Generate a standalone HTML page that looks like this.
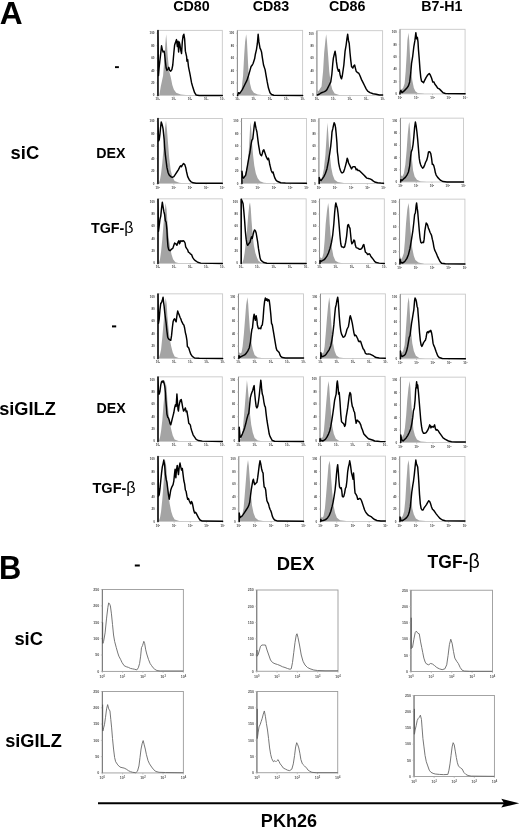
<!DOCTYPE html>
<html><head><meta charset="utf-8"><style>
html,body{margin:0;padding:0;background:#fff;}
body{width:520px;height:828px;overflow:hidden;}
svg{display:block;filter:blur(0.35px);}
text{font-family:"Liberation Sans",sans-serif;}
.big{font-weight:bold;fill:#000;}
.hd{font-weight:bold;font-size:14px;fill:#000;}
.rl{font-weight:bold;font-size:13.8px;fill:#000;}
.lb{font-weight:bold;font-size:17.5px;fill:#000;}
.lb2{font-weight:bold;font-size:17.5px;fill:#000;}
.beta{font-weight:normal;font-family:"Liberation Sans",sans-serif;font-size:1.12em;}
.gf{fill:#a4a4a4;stroke:none;}
.bx{fill:none;stroke:#c8c8c8;stroke-width:0.9;}
.ax{stroke:#8a8a8a;stroke-width:1;}
.tk{stroke:#aaa;stroke-width:0.6;}
.tl{font-size:3px;fill:#444;font-weight:bold;}
.sup{font-size:2px;}
.tlb{font-size:3.6px;fill:#555;font-weight:bold;}
.supb{font-size:2.6px;}
.bl{fill:none;stroke:#000;stroke-width:1.45;stroke-linejoin:round;stroke-linecap:round;}
.bxb{fill:none;stroke:#9a9a9a;stroke-width:0.9;}
.axb{stroke:#777;stroke-width:1;}
.spk{stroke:#555;stroke-width:1;}
.cb{fill:none;stroke:#666;stroke-width:0.9;stroke-linejoin:round;}
</style></head><body>
<svg width="520" height="828" viewBox="0 0 520 828">
<rect width="520" height="828" fill="#fff"/>
<polygon class="gf" points="159.23,95.46 159.23,95.46 160.77,86.54 163.08,75.77 164.62,55.77 165.38,43.46 166.15,34.23 166.92,43.46 167.69,55.77 169.23,71.15 170.77,77.31 172.31,85 173.85,89.62 176.15,92.69 180.77,94.54 188.46,95.31 196.15,95.46 196.15,95.46"/>
<rect class="bx" x="157.69" y="30.38" width="64.62" height="65.08"/>
<line class="ax" x1="157.69" y1="30.38" x2="157.69" y2="95.46"/>
<line class="tk" x1="156.49" y1="33.31" x2="157.69" y2="33.31"/>
<text class="tl" x="154.49" y="34.31" text-anchor="end">100</text>
<line class="tk" x1="156.49" y1="45.74" x2="157.69" y2="45.74"/>
<text class="tl" x="154.49" y="46.74" text-anchor="end">80</text>
<line class="tk" x1="156.49" y1="58.17" x2="157.69" y2="58.17"/>
<text class="tl" x="154.49" y="59.17" text-anchor="end">60</text>
<line class="tk" x1="156.49" y1="70.6" x2="157.69" y2="70.6"/>
<text class="tl" x="154.49" y="71.6" text-anchor="end">40</text>
<line class="tk" x1="156.49" y1="83.03" x2="157.69" y2="83.03"/>
<text class="tl" x="154.49" y="84.03" text-anchor="end">20</text>
<line class="tk" x1="156.49" y1="95.46" x2="157.69" y2="95.46"/>
<text class="tl" x="154.49" y="96.46" text-anchor="end">0</text>
<line class="tk" x1="157.69" y1="95.46" x2="157.69" y2="96.66"/>
<text class="tl" x="157.69" y="100.46" text-anchor="middle">10<tspan class="sup" dy="-0.8">0</tspan></text>
<line class="tk" x1="173.85" y1="95.46" x2="173.85" y2="96.66"/>
<text class="tl" x="173.85" y="100.46" text-anchor="middle">10<tspan class="sup" dy="-0.8">1</tspan></text>
<line class="tk" x1="190" y1="95.46" x2="190" y2="96.66"/>
<text class="tl" x="190" y="100.46" text-anchor="middle">10<tspan class="sup" dy="-0.8">2</tspan></text>
<line class="tk" x1="206.15" y1="95.46" x2="206.15" y2="96.66"/>
<text class="tl" x="206.15" y="100.46" text-anchor="middle">10<tspan class="sup" dy="-0.8">3</tspan></text>
<line class="tk" x1="222.31" y1="95.46" x2="222.31" y2="96.66"/>
<text class="tl" x="222.31" y="100.46" text-anchor="middle">10<tspan class="sup" dy="-0.8">4</tspan></text>
<polyline class="bl" points="158,95.46 158,30.38 158.46,75.77 159.23,66.54 160.46,55.77 161.54,45.77 162.31,49.62 163.08,51.92 164.15,51.15 164.62,54.23 165.38,61.92 166.15,68.08 166.92,70.38 168.15,68.85 168.77,67.31 169.69,70.38 170.77,71.15 171.85,69.62 172.77,65 173.85,52.69 174.62,45 175.38,42.69 176.46,39.62 177.38,46.54 178,41.15 178.62,51.92 179.23,41.92 180,45 180.77,50.38 181.54,53.46 182.31,41.92 183.08,35.77 183.85,34.23 184.62,38.85 185.38,51.15 186.62,56.54 186.92,61.15 187.69,59.62 188.46,66.54 190,74.23 191.54,82.69 193.08,88.08 194.62,92.69 196.15,95 199.23,95.46 222.31,95.46"/>
<polygon class="gf" points="238.46,95.46 238.46,95.46 240,92.69 241.54,89.62 243.08,75.77 244.15,55.77 245.08,41.92 246.15,34.23 246.92,40.38 247.69,55.77 248.46,71.15 250,83.46 251.54,89.62 253.85,92.69 257.69,94.54 263.85,95.31 270,95.46 270,95.46"/>
<rect class="bx" x="237.38" y="30.38" width="65.23" height="65.08"/>
<line class="ax" x1="237.38" y1="30.38" x2="237.38" y2="95.46"/>
<line class="tk" x1="236.18" y1="33.31" x2="237.38" y2="33.31"/>
<text class="tl" x="234.18" y="34.31" text-anchor="end">100</text>
<line class="tk" x1="236.18" y1="45.74" x2="237.38" y2="45.74"/>
<text class="tl" x="234.18" y="46.74" text-anchor="end">80</text>
<line class="tk" x1="236.18" y1="58.17" x2="237.38" y2="58.17"/>
<text class="tl" x="234.18" y="59.17" text-anchor="end">60</text>
<line class="tk" x1="236.18" y1="70.6" x2="237.38" y2="70.6"/>
<text class="tl" x="234.18" y="71.6" text-anchor="end">40</text>
<line class="tk" x1="236.18" y1="83.03" x2="237.38" y2="83.03"/>
<text class="tl" x="234.18" y="84.03" text-anchor="end">20</text>
<line class="tk" x1="236.18" y1="95.46" x2="237.38" y2="95.46"/>
<text class="tl" x="234.18" y="96.46" text-anchor="end">0</text>
<line class="tk" x1="237.38" y1="95.46" x2="237.38" y2="96.66"/>
<text class="tl" x="237.38" y="100.46" text-anchor="middle">10<tspan class="sup" dy="-0.8">0</tspan></text>
<line class="tk" x1="253.69" y1="95.46" x2="253.69" y2="96.66"/>
<text class="tl" x="253.69" y="100.46" text-anchor="middle">10<tspan class="sup" dy="-0.8">1</tspan></text>
<line class="tk" x1="270" y1="95.46" x2="270" y2="96.66"/>
<text class="tl" x="270" y="100.46" text-anchor="middle">10<tspan class="sup" dy="-0.8">2</tspan></text>
<line class="tk" x1="286.31" y1="95.46" x2="286.31" y2="96.66"/>
<text class="tl" x="286.31" y="100.46" text-anchor="middle">10<tspan class="sup" dy="-0.8">3</tspan></text>
<line class="tk" x1="302.62" y1="95.46" x2="302.62" y2="96.66"/>
<text class="tl" x="302.62" y="100.46" text-anchor="middle">10<tspan class="sup" dy="-0.8">4</tspan></text>
<polyline class="bl" points="237.69,95.46 238.46,92.69 239.54,93.46 240.77,91.92 242.31,89.62 244.62,85 246.92,80.38 248.46,75.77 250,70.38 251.08,66.54 252.31,65 253.08,63.46 254.62,58.85 255.38,54.23 256.46,49.62 257.38,43.46 258.15,34.23 258.92,41.92 260,48.08 260.77,49.62 261.54,51.92 262.31,57.31 263.54,65 265.08,69.62 266.15,75.77 267.23,81.92 268.46,88.08 270,92.69 271.54,94.54 273.85,95.31 302.62,95.46"/>
<polygon class="gf" points="317.38,95.46 317.38,95.46 317.38,89.62 318.46,91.15 320,88.85 321.54,86.54 323.08,71.15 324.15,52.69 325.38,40.38 326.15,34.23 326.92,40.38 328.15,55.77 329.23,71.15 330.77,83.46 332.31,89.62 334.62,93.46 339.23,95 346.92,95.46 346.92,95.46"/>
<rect class="bx" x="316.92" y="30.69" width="65.69" height="64.77"/>
<line class="ax" x1="316.92" y1="30.69" x2="316.92" y2="95.46"/>
<line class="tk" x1="315.72" y1="33.61" x2="316.92" y2="33.61"/>
<text class="tl" x="313.72" y="34.61" text-anchor="end">100</text>
<line class="tk" x1="315.72" y1="45.98" x2="316.92" y2="45.98"/>
<text class="tl" x="313.72" y="46.98" text-anchor="end">80</text>
<line class="tk" x1="315.72" y1="58.35" x2="316.92" y2="58.35"/>
<text class="tl" x="313.72" y="59.35" text-anchor="end">60</text>
<line class="tk" x1="315.72" y1="70.72" x2="316.92" y2="70.72"/>
<text class="tl" x="313.72" y="71.72" text-anchor="end">40</text>
<line class="tk" x1="315.72" y1="83.09" x2="316.92" y2="83.09"/>
<text class="tl" x="313.72" y="84.09" text-anchor="end">20</text>
<line class="tk" x1="315.72" y1="95.46" x2="316.92" y2="95.46"/>
<text class="tl" x="313.72" y="96.46" text-anchor="end">0</text>
<line class="tk" x1="316.92" y1="95.46" x2="316.92" y2="96.66"/>
<text class="tl" x="316.92" y="100.46" text-anchor="middle">10<tspan class="sup" dy="-0.8">0</tspan></text>
<line class="tk" x1="333.35" y1="95.46" x2="333.35" y2="96.66"/>
<text class="tl" x="333.35" y="100.46" text-anchor="middle">10<tspan class="sup" dy="-0.8">1</tspan></text>
<line class="tk" x1="349.77" y1="95.46" x2="349.77" y2="96.66"/>
<text class="tl" x="349.77" y="100.46" text-anchor="middle">10<tspan class="sup" dy="-0.8">2</tspan></text>
<line class="tk" x1="366.19" y1="95.46" x2="366.19" y2="96.66"/>
<text class="tl" x="366.19" y="100.46" text-anchor="middle">10<tspan class="sup" dy="-0.8">3</tspan></text>
<line class="tk" x1="382.62" y1="95.46" x2="382.62" y2="96.66"/>
<text class="tl" x="382.62" y="100.46" text-anchor="middle">10<tspan class="sup" dy="-0.8">4</tspan></text>
<polyline class="bl" points="317.38,95 319.23,94.23 321.54,92.69 323.85,91.92 325.38,91.15 326.92,89.62 329.23,85 330.77,81.92 331.85,74.23 332.77,63.46 333.38,58.08 334.31,54.23 335.08,51.15 335.85,55.77 336.46,61.92 337.38,68.08 338.46,71.15 339.23,69.62 340,74.23 340.77,77.31 341.54,78.85 342.31,75.77 343.85,65 345.08,51.15 346.15,45 346.92,38.85 347.69,34.23 348.46,40.38 349.23,43.46 350,52.69 350.77,60.38 351.54,66.54 352.77,68.08 353.85,65.77 354.62,65 355.38,68.08 356.15,71.15 357.69,72.69 358.92,73.46 360,75.77 361.54,79.62 363.08,82.69 364.62,85.77 366.15,88.85 367.69,91.15 370,92.69 373.08,93.77 376.15,94.23 379.23,95 382.62,95"/>
<polygon class="gf" points="400.46,93.92 400.46,93.92 400.46,88.08 401.54,89.62 403.08,88.08 404.62,83.46 405.69,71.15 406.62,55.77 407.38,40.38 408.46,32.69 409.23,40.38 410,55.77 411.23,71.15 412.31,80.38 413.85,88.08 415.38,91.15 417.69,93 423.85,93.77 423.85,93.92"/>
<rect class="bx" x="400" y="29.31" width="65.08" height="64.62"/>
<line class="ax" x1="400" y1="29.31" x2="400" y2="93.92"/>
<line class="tk" x1="398.8" y1="32.22" x2="400" y2="32.22"/>
<text class="tl" x="396.8" y="33.22" text-anchor="end">100</text>
<line class="tk" x1="398.8" y1="44.56" x2="400" y2="44.56"/>
<text class="tl" x="396.8" y="45.56" text-anchor="end">80</text>
<line class="tk" x1="398.8" y1="56.9" x2="400" y2="56.9"/>
<text class="tl" x="396.8" y="57.9" text-anchor="end">60</text>
<line class="tk" x1="398.8" y1="69.24" x2="400" y2="69.24"/>
<text class="tl" x="396.8" y="70.24" text-anchor="end">40</text>
<line class="tk" x1="398.8" y1="81.58" x2="400" y2="81.58"/>
<text class="tl" x="396.8" y="82.58" text-anchor="end">20</text>
<line class="tk" x1="398.8" y1="93.92" x2="400" y2="93.92"/>
<text class="tl" x="396.8" y="94.92" text-anchor="end">0</text>
<line class="tk" x1="400" y1="93.92" x2="400" y2="95.12"/>
<text class="tl" x="400" y="98.92" text-anchor="middle">10<tspan class="sup" dy="-0.8">0</tspan></text>
<line class="tk" x1="416.27" y1="93.92" x2="416.27" y2="95.12"/>
<text class="tl" x="416.27" y="98.92" text-anchor="middle">10<tspan class="sup" dy="-0.8">1</tspan></text>
<line class="tk" x1="432.54" y1="93.92" x2="432.54" y2="95.12"/>
<text class="tl" x="432.54" y="98.92" text-anchor="middle">10<tspan class="sup" dy="-0.8">2</tspan></text>
<line class="tk" x1="448.81" y1="93.92" x2="448.81" y2="95.12"/>
<text class="tl" x="448.81" y="98.92" text-anchor="middle">10<tspan class="sup" dy="-0.8">3</tspan></text>
<line class="tk" x1="465.08" y1="93.92" x2="465.08" y2="95.12"/>
<text class="tl" x="465.08" y="98.92" text-anchor="middle">10<tspan class="sup" dy="-0.8">4</tspan></text>
<polyline class="bl" points="400,93.92 400,92.69 400.77,90.38 402,92.69 403.85,91.15 405.38,89.62 406.92,88.08 408.46,85.77 409.69,81.92 410.77,72.69 411.54,63.46 412.77,55.77 413.85,46.54 414.92,40.38 415.85,32.69 416.62,38.85 417.38,37.31 418,41.92 418.46,49.62 419.23,58.85 420,69.62 420.77,77.31 421.54,81.15 422.62,81.92 423.54,82.69 424.62,80.38 426.15,77.31 427.69,75 429.23,73.46 430.31,75 431.54,78.08 432.77,81.92 433.85,81.92 434.92,84.23 436.15,85.77 437.69,88.08 439.23,88.85 440.77,90.38 443.08,92.69 445.38,93.46 465.08,93.77"/>
<polygon class="gf" points="158.92,183.54 158.92,182.77 160,179.69 161.08,173.54 162.31,162.77 163.38,150.46 164.15,138.15 165.08,127.38 166,120.46 166.92,128.92 168,142.77 169.23,158.15 170.77,170.46 172.31,176.62 174.62,180.92 179.23,182.77 185.38,183.38 185.38,183.54"/>
<rect class="bx" x="157.69" y="118.46" width="64.62" height="65.08"/>
<line class="ax" x1="157.69" y1="118.46" x2="157.69" y2="183.54"/>
<line class="tk" x1="156.49" y1="121.39" x2="157.69" y2="121.39"/>
<text class="tl" x="154.49" y="122.39" text-anchor="end">100</text>
<line class="tk" x1="156.49" y1="133.82" x2="157.69" y2="133.82"/>
<text class="tl" x="154.49" y="134.82" text-anchor="end">80</text>
<line class="tk" x1="156.49" y1="146.25" x2="157.69" y2="146.25"/>
<text class="tl" x="154.49" y="147.25" text-anchor="end">60</text>
<line class="tk" x1="156.49" y1="158.68" x2="157.69" y2="158.68"/>
<text class="tl" x="154.49" y="159.68" text-anchor="end">40</text>
<line class="tk" x1="156.49" y1="171.11" x2="157.69" y2="171.11"/>
<text class="tl" x="154.49" y="172.11" text-anchor="end">20</text>
<line class="tk" x1="156.49" y1="183.54" x2="157.69" y2="183.54"/>
<text class="tl" x="154.49" y="184.54" text-anchor="end">0</text>
<line class="tk" x1="157.69" y1="183.54" x2="157.69" y2="184.74"/>
<text class="tl" x="157.69" y="188.54" text-anchor="middle">10<tspan class="sup" dy="-0.8">0</tspan></text>
<line class="tk" x1="173.85" y1="183.54" x2="173.85" y2="184.74"/>
<text class="tl" x="173.85" y="188.54" text-anchor="middle">10<tspan class="sup" dy="-0.8">1</tspan></text>
<line class="tk" x1="190" y1="183.54" x2="190" y2="184.74"/>
<text class="tl" x="190" y="188.54" text-anchor="middle">10<tspan class="sup" dy="-0.8">2</tspan></text>
<line class="tk" x1="206.15" y1="183.54" x2="206.15" y2="184.74"/>
<text class="tl" x="206.15" y="188.54" text-anchor="middle">10<tspan class="sup" dy="-0.8">3</tspan></text>
<line class="tk" x1="222.31" y1="183.54" x2="222.31" y2="184.74"/>
<text class="tl" x="222.31" y="188.54" text-anchor="middle">10<tspan class="sup" dy="-0.8">4</tspan></text>
<polyline class="bl" points="158,183.54 158,118.46 158.46,141.23 159.23,139.69 160,133.54 160.77,125.85 161.23,122 162,124.31 162.62,126.62 163.08,128.92 163.54,133.54 164.15,139.69 164.62,147.38 165.38,155.08 166.15,161.23 166.92,167.38 168.15,172.77 169.23,175.08 170.77,176.62 172.31,177.38 173.85,176.62 175.38,174.31 176.92,172 178.46,169.69 179.23,168.15 180,166.62 180.77,165.85 181.54,166.62 182.31,165.08 183.54,163.54 184.62,164.31 185.69,167.38 186.62,172 187.69,176.62 189.23,179.69 190.77,181.54 193.08,182.77 196.15,183.23 222.31,183.23"/>
<polygon class="gf" points="242.31,183.54 242.31,183.54 242.31,180.46 243.54,178.92 244.62,176.62 246.15,170.46 247.69,162.77 248.77,150.46 249.69,135.08 250.46,122 251.23,128.92 252,142.77 253.08,155.08 254.31,165.85 255.85,173.54 257.69,178.15 260,181.23 263.85,182.77 270,183.23 270,183.54"/>
<rect class="bx" x="241.54" y="118.46" width="64.92" height="65.08"/>
<line class="ax" x1="241.54" y1="118.46" x2="241.54" y2="183.54"/>
<line class="tk" x1="240.34" y1="121.39" x2="241.54" y2="121.39"/>
<text class="tl" x="238.34" y="122.39" text-anchor="end">100</text>
<line class="tk" x1="240.34" y1="133.82" x2="241.54" y2="133.82"/>
<text class="tl" x="238.34" y="134.82" text-anchor="end">80</text>
<line class="tk" x1="240.34" y1="146.25" x2="241.54" y2="146.25"/>
<text class="tl" x="238.34" y="147.25" text-anchor="end">60</text>
<line class="tk" x1="240.34" y1="158.68" x2="241.54" y2="158.68"/>
<text class="tl" x="238.34" y="159.68" text-anchor="end">40</text>
<line class="tk" x1="240.34" y1="171.11" x2="241.54" y2="171.11"/>
<text class="tl" x="238.34" y="172.11" text-anchor="end">20</text>
<line class="tk" x1="240.34" y1="183.54" x2="241.54" y2="183.54"/>
<text class="tl" x="238.34" y="184.54" text-anchor="end">0</text>
<line class="tk" x1="241.54" y1="183.54" x2="241.54" y2="184.74"/>
<text class="tl" x="241.54" y="188.54" text-anchor="middle">10<tspan class="sup" dy="-0.8">0</tspan></text>
<line class="tk" x1="257.77" y1="183.54" x2="257.77" y2="184.74"/>
<text class="tl" x="257.77" y="188.54" text-anchor="middle">10<tspan class="sup" dy="-0.8">1</tspan></text>
<line class="tk" x1="274" y1="183.54" x2="274" y2="184.74"/>
<text class="tl" x="274" y="188.54" text-anchor="middle">10<tspan class="sup" dy="-0.8">2</tspan></text>
<line class="tk" x1="290.23" y1="183.54" x2="290.23" y2="184.74"/>
<text class="tl" x="290.23" y="188.54" text-anchor="middle">10<tspan class="sup" dy="-0.8">3</tspan></text>
<line class="tk" x1="306.46" y1="183.54" x2="306.46" y2="184.74"/>
<text class="tl" x="306.46" y="188.54" text-anchor="middle">10<tspan class="sup" dy="-0.8">4</tspan></text>
<polyline class="bl" points="242,183.54 242,171.23 242.62,176.62 243.54,178.15 244.62,176.62 245.69,175.08 246.62,170.46 247.69,164.31 248.77,158.15 250,152 251.08,144.31 251.85,140.46 252.77,138.92 253.38,133.54 254.31,125.08 254.92,122 255.54,125.85 256.15,128.92 256.92,132 257.69,138.15 258.46,144.31 259.23,148.92 260,153.54 260.77,155.08 261.54,155.85 262.31,153.54 263.08,150.46 263.85,149.69 264.62,152 265.38,154.31 266.15,156.62 266.92,158.15 267.69,159.69 268.46,158.15 269.23,161.23 269.69,164.31 270.31,166.62 271.23,170.46 272.31,172.77 273.08,172 273.85,175.08 274.92,178.15 276.15,180.46 277.69,181.54 280.77,182.77 285.38,183.08 306.46,183.23"/>
<polygon class="gf" points="319.23,183.54 319.23,183.54 319.23,181.23 320.77,179.69 322.31,176.62 323.85,168.92 325.38,155.08 326.46,138.15 327.38,122.77 328.15,132 328.92,144.31 330,156.62 331.23,167.38 332.77,175.08 334.62,179.69 337.69,182 343.85,183.08 343.85,183.54"/>
<rect class="bx" x="318.92" y="118.46" width="64.62" height="65.08"/>
<line class="ax" x1="318.92" y1="118.46" x2="318.92" y2="183.54"/>
<line class="tk" x1="317.72" y1="121.39" x2="318.92" y2="121.39"/>
<text class="tl" x="315.72" y="122.39" text-anchor="end">100</text>
<line class="tk" x1="317.72" y1="133.82" x2="318.92" y2="133.82"/>
<text class="tl" x="315.72" y="134.82" text-anchor="end">80</text>
<line class="tk" x1="317.72" y1="146.25" x2="318.92" y2="146.25"/>
<text class="tl" x="315.72" y="147.25" text-anchor="end">60</text>
<line class="tk" x1="317.72" y1="158.68" x2="318.92" y2="158.68"/>
<text class="tl" x="315.72" y="159.68" text-anchor="end">40</text>
<line class="tk" x1="317.72" y1="171.11" x2="318.92" y2="171.11"/>
<text class="tl" x="315.72" y="172.11" text-anchor="end">20</text>
<line class="tk" x1="317.72" y1="183.54" x2="318.92" y2="183.54"/>
<text class="tl" x="315.72" y="184.54" text-anchor="end">0</text>
<line class="tk" x1="318.92" y1="183.54" x2="318.92" y2="184.74"/>
<text class="tl" x="318.92" y="188.54" text-anchor="middle">10<tspan class="sup" dy="-0.8">0</tspan></text>
<line class="tk" x1="335.08" y1="183.54" x2="335.08" y2="184.74"/>
<text class="tl" x="335.08" y="188.54" text-anchor="middle">10<tspan class="sup" dy="-0.8">1</tspan></text>
<line class="tk" x1="351.23" y1="183.54" x2="351.23" y2="184.74"/>
<text class="tl" x="351.23" y="188.54" text-anchor="middle">10<tspan class="sup" dy="-0.8">2</tspan></text>
<line class="tk" x1="367.38" y1="183.54" x2="367.38" y2="184.74"/>
<text class="tl" x="367.38" y="188.54" text-anchor="middle">10<tspan class="sup" dy="-0.8">3</tspan></text>
<line class="tk" x1="383.54" y1="183.54" x2="383.54" y2="184.74"/>
<text class="tl" x="383.54" y="188.54" text-anchor="middle">10<tspan class="sup" dy="-0.8">4</tspan></text>
<polyline class="bl" points="319.23,183.54 319.23,177.38 320,179.69 321.08,180.46 322.31,178.92 323.85,176.62 325.38,173.54 326.92,168.92 328.46,161.23 329.69,153.54 330.77,145.85 331.54,138.15 332,132 332.77,128.92 333.38,125.85 334.15,122.77 334.92,124.31 335.54,127.38 336.15,133.54 336.92,142.77 337.38,152 338,156.62 338.62,162.77 339.54,167.38 340.46,170.46 341.54,172.77 342.62,172.77 343.54,172 344.62,168.92 345.69,165.08 346.62,161.23 347.23,158.15 347.85,159.69 348.46,162.77 349.69,165.08 350.77,167.38 351.54,168.92 352.31,167.38 353.38,166.62 354.62,166.62 355.38,167.38 356.15,169.69 356.92,168.92 358,170.46 359.23,170.46 360.77,172 362.31,173.54 363.85,175.08 365.38,176.62 366.92,178.15 368.46,178.46 370,178.92 371.54,179.69 373.08,180.92 374.62,182 377.69,182.77 380.77,183.08 383.54,183.23"/>
<polygon class="gf" points="400.77,182 400.77,182 400.77,175.08 402.31,176.62 403.85,173.54 405.38,164.31 406.62,150.46 407.69,135.08 408.77,124.31 409.38,122 410,128.92 410.77,142.77 411.85,158.15 413.08,170.46 414.62,176.62 416.92,179.69 420.77,181.54 426.92,182 426.92,182"/>
<rect class="bx" x="400.46" y="118.15" width="63.08" height="63.85"/>
<line class="ax" x1="400.46" y1="118.15" x2="400.46" y2="182"/>
<line class="tk" x1="399.26" y1="121.03" x2="400.46" y2="121.03"/>
<text class="tl" x="397.26" y="122.03" text-anchor="end">100</text>
<line class="tk" x1="399.26" y1="133.22" x2="400.46" y2="133.22"/>
<text class="tl" x="397.26" y="134.22" text-anchor="end">80</text>
<line class="tk" x1="399.26" y1="145.42" x2="400.46" y2="145.42"/>
<text class="tl" x="397.26" y="146.42" text-anchor="end">60</text>
<line class="tk" x1="399.26" y1="157.61" x2="400.46" y2="157.61"/>
<text class="tl" x="397.26" y="158.61" text-anchor="end">40</text>
<line class="tk" x1="399.26" y1="169.81" x2="400.46" y2="169.81"/>
<text class="tl" x="397.26" y="170.81" text-anchor="end">20</text>
<line class="tk" x1="399.26" y1="182" x2="400.46" y2="182"/>
<text class="tl" x="397.26" y="183" text-anchor="end">0</text>
<line class="tk" x1="400.46" y1="182" x2="400.46" y2="183.2"/>
<text class="tl" x="400.46" y="187" text-anchor="middle">10<tspan class="sup" dy="-0.8">0</tspan></text>
<line class="tk" x1="416.23" y1="182" x2="416.23" y2="183.2"/>
<text class="tl" x="416.23" y="187" text-anchor="middle">10<tspan class="sup" dy="-0.8">1</tspan></text>
<line class="tk" x1="432" y1="182" x2="432" y2="183.2"/>
<text class="tl" x="432" y="187" text-anchor="middle">10<tspan class="sup" dy="-0.8">2</tspan></text>
<line class="tk" x1="447.77" y1="182" x2="447.77" y2="183.2"/>
<text class="tl" x="447.77" y="187" text-anchor="middle">10<tspan class="sup" dy="-0.8">3</tspan></text>
<line class="tk" x1="463.54" y1="182" x2="463.54" y2="183.2"/>
<text class="tl" x="463.54" y="187" text-anchor="middle">10<tspan class="sup" dy="-0.8">4</tspan></text>
<polyline class="bl" points="400.77,182 400.77,179.69 402,180.46 403.54,178.92 405.38,177.38 406.92,175.08 408.46,172 409.69,165.85 410.46,158.15 411.23,152 412.31,148.92 413.08,144.31 413.85,136.62 414.62,127.38 415.38,122 416.15,125.85 416.92,132 417.69,139.69 418.46,148.92 419.23,158.15 420,162.77 420.77,165.08 421.54,166.62 422.62,168.15 423.54,167.38 424.62,165.08 425.69,162 426.62,160.46 427.69,156.62 428.46,152 429.69,151.69 430.77,153.54 431.54,158.15 432.31,164.31 433.08,164.31 433.85,165.85 434.62,168.92 435.38,172.77 436.15,175.08 437.69,177.38 439.23,178.92 440.77,180.46 443.08,181.54 446.92,182 463.54,182"/>
<polygon class="gf" points="158.92,263.46 158.92,263 160,259.15 161.08,251.46 162.31,239.15 163.54,223.77 164.77,211.46 165.69,203 166.62,209.92 167.54,223.77 168.46,236.08 170,246.85 171.54,254.54 173.08,259.15 175.38,262.23 179.23,263.15 185.38,263.46 185.38,263.46"/>
<rect class="bx" x="158" y="198.85" width="64.31" height="64.62"/>
<line class="ax" x1="158" y1="198.85" x2="158" y2="263.46"/>
<line class="tk" x1="156.8" y1="201.75" x2="158" y2="201.75"/>
<text class="tl" x="154.8" y="202.75" text-anchor="end">100</text>
<line class="tk" x1="156.8" y1="214.1" x2="158" y2="214.1"/>
<text class="tl" x="154.8" y="215.1" text-anchor="end">80</text>
<line class="tk" x1="156.8" y1="226.44" x2="158" y2="226.44"/>
<text class="tl" x="154.8" y="227.44" text-anchor="end">60</text>
<line class="tk" x1="156.8" y1="238.78" x2="158" y2="238.78"/>
<text class="tl" x="154.8" y="239.78" text-anchor="end">40</text>
<line class="tk" x1="156.8" y1="251.12" x2="158" y2="251.12"/>
<text class="tl" x="154.8" y="252.12" text-anchor="end">20</text>
<line class="tk" x1="156.8" y1="263.46" x2="158" y2="263.46"/>
<text class="tl" x="154.8" y="264.46" text-anchor="end">0</text>
<line class="tk" x1="158" y1="263.46" x2="158" y2="264.66"/>
<text class="tl" x="158" y="268.46" text-anchor="middle">10<tspan class="sup" dy="-0.8">0</tspan></text>
<line class="tk" x1="174.08" y1="263.46" x2="174.08" y2="264.66"/>
<text class="tl" x="174.08" y="268.46" text-anchor="middle">10<tspan class="sup" dy="-0.8">1</tspan></text>
<line class="tk" x1="190.15" y1="263.46" x2="190.15" y2="264.66"/>
<text class="tl" x="190.15" y="268.46" text-anchor="middle">10<tspan class="sup" dy="-0.8">2</tspan></text>
<line class="tk" x1="206.23" y1="263.46" x2="206.23" y2="264.66"/>
<text class="tl" x="206.23" y="268.46" text-anchor="middle">10<tspan class="sup" dy="-0.8">3</tspan></text>
<line class="tk" x1="222.31" y1="263.46" x2="222.31" y2="264.66"/>
<text class="tl" x="222.31" y="268.46" text-anchor="middle">10<tspan class="sup" dy="-0.8">4</tspan></text>
<polyline class="bl" points="158,263.46 158,199.15 158.46,231.46 159.23,225.31 160,219.15 160.77,216.08 161.54,208.38 162.31,202.23 163.08,206.85 163.85,211.46 164.62,214.54 165.38,220.69 166.15,222.23 166.92,229.92 167.38,239.15 168,246.85 168.77,249.92 170,250.69 171.54,249.15 172.77,248.38 173.85,245.31 174.62,243 175.85,243.77 176.92,245.31 178,242.23 178.92,240.69 179.54,243.77 180.15,242.23 180.77,240.69 182,241.46 183.08,240.69 184.15,241.46 185.08,243 185.69,246.85 186.62,248.38 187.69,249.92 188.46,252.23 189.69,253 190.31,253.77 191.54,254.54 192.77,257.62 193.85,259.15 195.38,260.69 197.69,262.23 200.77,263.15 222.31,263.46"/>
<polygon class="gf" points="242.31,263.46 242.31,263.46 242.31,263 243.54,259.15 244.62,253 245.69,243.77 246.92,231.46 248.15,216.08 249.23,205.31 250,202.23 250.77,208.38 251.54,220.69 252.77,236.08 253.85,245.31 255.38,253 256.92,257.62 258.46,260.69 260.77,262.54 266.92,263.46 266.92,263.46"/>
<rect class="bx" x="241.08" y="198.85" width="65.08" height="64.62"/>
<line class="ax" x1="241.08" y1="198.85" x2="241.08" y2="263.46"/>
<line class="tk" x1="239.88" y1="201.75" x2="241.08" y2="201.75"/>
<text class="tl" x="237.88" y="202.75" text-anchor="end">100</text>
<line class="tk" x1="239.88" y1="214.1" x2="241.08" y2="214.1"/>
<text class="tl" x="237.88" y="215.1" text-anchor="end">80</text>
<line class="tk" x1="239.88" y1="226.44" x2="241.08" y2="226.44"/>
<text class="tl" x="237.88" y="227.44" text-anchor="end">60</text>
<line class="tk" x1="239.88" y1="238.78" x2="241.08" y2="238.78"/>
<text class="tl" x="237.88" y="239.78" text-anchor="end">40</text>
<line class="tk" x1="239.88" y1="251.12" x2="241.08" y2="251.12"/>
<text class="tl" x="237.88" y="252.12" text-anchor="end">20</text>
<line class="tk" x1="239.88" y1="263.46" x2="241.08" y2="263.46"/>
<text class="tl" x="237.88" y="264.46" text-anchor="end">0</text>
<line class="tk" x1="241.08" y1="263.46" x2="241.08" y2="264.66"/>
<text class="tl" x="241.08" y="268.46" text-anchor="middle">10<tspan class="sup" dy="-0.8">0</tspan></text>
<line class="tk" x1="257.35" y1="263.46" x2="257.35" y2="264.66"/>
<text class="tl" x="257.35" y="268.46" text-anchor="middle">10<tspan class="sup" dy="-0.8">1</tspan></text>
<line class="tk" x1="273.62" y1="263.46" x2="273.62" y2="264.66"/>
<text class="tl" x="273.62" y="268.46" text-anchor="middle">10<tspan class="sup" dy="-0.8">2</tspan></text>
<line class="tk" x1="289.88" y1="263.46" x2="289.88" y2="264.66"/>
<text class="tl" x="289.88" y="268.46" text-anchor="middle">10<tspan class="sup" dy="-0.8">3</tspan></text>
<line class="tk" x1="306.15" y1="263.46" x2="306.15" y2="264.66"/>
<text class="tl" x="306.15" y="268.46" text-anchor="middle">10<tspan class="sup" dy="-0.8">4</tspan></text>
<polyline class="bl" points="241.23,263.46 241.23,199.15 242.31,201.46 243.08,203.77 243.85,211.46 244.62,220.69 245.38,231.46 246.15,239.15 246.92,243.77 247.69,245.31 248.77,243.77 250,242.23 250.77,239.15 251.54,236.85 252.31,238.38 253.08,234.54 253.85,231.46 254.62,229.92 255.38,230.69 256.15,233 256.92,237.62 257.69,242.23 258.46,248.38 259.23,253 260,257.62 260.77,259.92 262.31,261.46 263.85,262.54 266.92,263.31 306.15,263.46"/>
<polygon class="gf" points="320,263.46 320,263.46 320,256.85 321.08,258.38 322.31,257.62 323.54,253 324.62,240.69 325.69,223.77 326.92,211.46 328.15,203 328.92,208.38 329.69,223.77 330.77,237.62 332,248.38 333.38,256.08 335.38,260.69 338.46,262.54 343.85,263.46 343.85,263.46"/>
<rect class="bx" x="319.54" y="198.85" width="64.77" height="64.62"/>
<line class="ax" x1="319.54" y1="198.85" x2="319.54" y2="263.46"/>
<line class="tk" x1="318.34" y1="201.75" x2="319.54" y2="201.75"/>
<text class="tl" x="316.34" y="202.75" text-anchor="end">100</text>
<line class="tk" x1="318.34" y1="214.1" x2="319.54" y2="214.1"/>
<text class="tl" x="316.34" y="215.1" text-anchor="end">80</text>
<line class="tk" x1="318.34" y1="226.44" x2="319.54" y2="226.44"/>
<text class="tl" x="316.34" y="227.44" text-anchor="end">60</text>
<line class="tk" x1="318.34" y1="238.78" x2="319.54" y2="238.78"/>
<text class="tl" x="316.34" y="239.78" text-anchor="end">40</text>
<line class="tk" x1="318.34" y1="251.12" x2="319.54" y2="251.12"/>
<text class="tl" x="316.34" y="252.12" text-anchor="end">20</text>
<line class="tk" x1="318.34" y1="263.46" x2="319.54" y2="263.46"/>
<text class="tl" x="316.34" y="264.46" text-anchor="end">0</text>
<line class="tk" x1="319.54" y1="263.46" x2="319.54" y2="264.66"/>
<text class="tl" x="319.54" y="268.46" text-anchor="middle">10<tspan class="sup" dy="-0.8">0</tspan></text>
<line class="tk" x1="335.73" y1="263.46" x2="335.73" y2="264.66"/>
<text class="tl" x="335.73" y="268.46" text-anchor="middle">10<tspan class="sup" dy="-0.8">1</tspan></text>
<line class="tk" x1="351.92" y1="263.46" x2="351.92" y2="264.66"/>
<text class="tl" x="351.92" y="268.46" text-anchor="middle">10<tspan class="sup" dy="-0.8">2</tspan></text>
<line class="tk" x1="368.12" y1="263.46" x2="368.12" y2="264.66"/>
<text class="tl" x="368.12" y="268.46" text-anchor="middle">10<tspan class="sup" dy="-0.8">3</tspan></text>
<line class="tk" x1="384.31" y1="263.46" x2="384.31" y2="264.66"/>
<text class="tl" x="384.31" y="268.46" text-anchor="middle">10<tspan class="sup" dy="-0.8">4</tspan></text>
<polyline class="bl" points="320,263.46 320,260.69 321.08,261.46 322.31,260.69 323.85,259.92 325.38,258.38 326.92,256.08 328.46,253 330,248.38 331.54,242.23 332.77,234.54 333.85,223.77 334.62,213 335.38,205.31 335.85,203 336.46,205.31 337.38,208.38 338,213 338.46,217.62 339.23,226.85 340,236.08 340.77,243.77 341.54,246.85 342.62,246.85 343.54,247.62 344.62,246.85 345.69,242.23 346.62,236.08 347.23,229.92 347.69,225.31 348.46,224.54 349.23,226.85 350,228.38 350.46,233 351.23,240.69 351.85,243.77 353.08,242.23 353.85,239.92 354.62,240.69 355.38,245.31 356.15,247.62 357.69,248.08 359.23,249.15 360.77,249.15 362.31,247.62 363.08,245.31 363.85,244.54 364.62,248.38 365.38,252.23 366.62,253 367.69,254.54 369.23,253.77 370,254.54 370.77,256.08 371.54,257.31 373.08,259.15 374.62,261.46 376.15,262.54 379.23,263.15 384.31,263.46"/>
<polygon class="gf" points="400,264.08 400,264.08 400,256.08 401.08,259.15 402.31,257.62 403.85,253 404.92,240.69 406,223.77 407.23,209.92 408.46,203 409.23,208.38 410,223.77 411.08,237.62 412.31,248.38 413.85,256.08 415.38,259.92 418.46,262.54 423.85,263.77 423.85,264.08"/>
<rect class="bx" x="399.54" y="199.15" width="65.38" height="64.92"/>
<line class="ax" x1="399.54" y1="199.15" x2="399.54" y2="264.08"/>
<line class="tk" x1="398.34" y1="202.08" x2="399.54" y2="202.08"/>
<text class="tl" x="396.34" y="203.08" text-anchor="end">100</text>
<line class="tk" x1="398.34" y1="214.48" x2="399.54" y2="214.48"/>
<text class="tl" x="396.34" y="215.48" text-anchor="end">80</text>
<line class="tk" x1="398.34" y1="226.88" x2="399.54" y2="226.88"/>
<text class="tl" x="396.34" y="227.88" text-anchor="end">60</text>
<line class="tk" x1="398.34" y1="239.28" x2="399.54" y2="239.28"/>
<text class="tl" x="396.34" y="240.28" text-anchor="end">40</text>
<line class="tk" x1="398.34" y1="251.68" x2="399.54" y2="251.68"/>
<text class="tl" x="396.34" y="252.68" text-anchor="end">20</text>
<line class="tk" x1="398.34" y1="264.08" x2="399.54" y2="264.08"/>
<text class="tl" x="396.34" y="265.08" text-anchor="end">0</text>
<line class="tk" x1="399.54" y1="264.08" x2="399.54" y2="265.28"/>
<text class="tl" x="399.54" y="269.08" text-anchor="middle">10<tspan class="sup" dy="-0.8">0</tspan></text>
<line class="tk" x1="415.88" y1="264.08" x2="415.88" y2="265.28"/>
<text class="tl" x="415.88" y="269.08" text-anchor="middle">10<tspan class="sup" dy="-0.8">1</tspan></text>
<line class="tk" x1="432.23" y1="264.08" x2="432.23" y2="265.28"/>
<text class="tl" x="432.23" y="269.08" text-anchor="middle">10<tspan class="sup" dy="-0.8">2</tspan></text>
<line class="tk" x1="448.58" y1="264.08" x2="448.58" y2="265.28"/>
<text class="tl" x="448.58" y="269.08" text-anchor="middle">10<tspan class="sup" dy="-0.8">3</tspan></text>
<line class="tk" x1="464.92" y1="264.08" x2="464.92" y2="265.28"/>
<text class="tl" x="464.92" y="269.08" text-anchor="middle">10<tspan class="sup" dy="-0.8">4</tspan></text>
<polyline class="bl" points="400,264.08 400,259.15 400.77,262.23 402.31,263 403.85,262.23 405.38,260.69 406.92,258.38 408.46,254.54 410,248.38 411.54,239.15 412.77,231.46 413.85,222.23 414.62,214.54 415.38,213 416.15,205.31 416.62,203 417.23,208.38 417.69,211.46 418.46,220.69 419.23,229.92 420,237.62 420.77,242.23 421.54,243 422.62,242.23 423.54,242.54 424.15,239.15 424.77,231.46 425.38,227.62 426.15,223 426.92,223.77 427.69,225.31 428.46,228.38 429.23,229.92 430,232.23 430.77,233.77 431.54,235.31 432.31,239.15 433.08,242.23 433.85,246.85 434.62,249.92 435.38,251.46 436.15,253 437.38,256.08 438.46,258.38 440,261.46 441.54,263.31 445.38,263.77 464.92,264.08"/>
<polygon class="gf" points="158.92,358.46 158.92,358 160,354.15 161.08,349.54 162.31,337.23 163.54,323.38 164.62,309.54 165.69,298 166.62,303.38 167.38,315.69 168.46,328 169.69,338.77 171.23,346.46 172.77,352.62 174.62,356.46 179.23,358.15 185.38,358.46 185.38,358.46"/>
<rect class="bx" x="158" y="293.85" width="64.62" height="64.62"/>
<line class="ax" x1="158" y1="293.85" x2="158" y2="358.46"/>
<line class="tk" x1="156.8" y1="296.75" x2="158" y2="296.75"/>
<text class="tl" x="154.8" y="297.75" text-anchor="end">100</text>
<line class="tk" x1="156.8" y1="309.1" x2="158" y2="309.1"/>
<text class="tl" x="154.8" y="310.1" text-anchor="end">80</text>
<line class="tk" x1="156.8" y1="321.44" x2="158" y2="321.44"/>
<text class="tl" x="154.8" y="322.44" text-anchor="end">60</text>
<line class="tk" x1="156.8" y1="333.78" x2="158" y2="333.78"/>
<text class="tl" x="154.8" y="334.78" text-anchor="end">40</text>
<line class="tk" x1="156.8" y1="346.12" x2="158" y2="346.12"/>
<text class="tl" x="154.8" y="347.12" text-anchor="end">20</text>
<line class="tk" x1="156.8" y1="358.46" x2="158" y2="358.46"/>
<text class="tl" x="154.8" y="359.46" text-anchor="end">0</text>
<line class="tk" x1="158" y1="358.46" x2="158" y2="359.66"/>
<text class="tl" x="158" y="363.46" text-anchor="middle">10<tspan class="sup" dy="-0.8">0</tspan></text>
<line class="tk" x1="174.15" y1="358.46" x2="174.15" y2="359.66"/>
<text class="tl" x="174.15" y="363.46" text-anchor="middle">10<tspan class="sup" dy="-0.8">1</tspan></text>
<line class="tk" x1="190.31" y1="358.46" x2="190.31" y2="359.66"/>
<text class="tl" x="190.31" y="363.46" text-anchor="middle">10<tspan class="sup" dy="-0.8">2</tspan></text>
<line class="tk" x1="206.46" y1="358.46" x2="206.46" y2="359.66"/>
<text class="tl" x="206.46" y="363.46" text-anchor="middle">10<tspan class="sup" dy="-0.8">3</tspan></text>
<line class="tk" x1="222.62" y1="358.46" x2="222.62" y2="359.66"/>
<text class="tl" x="222.62" y="363.46" text-anchor="middle">10<tspan class="sup" dy="-0.8">4</tspan></text>
<polyline class="bl" points="158,358.46 158,293.85 158.46,323.38 159.23,318.77 160,309.54 160.77,303.38 161.54,302.62 162.31,300.31 163.08,297.23 163.54,301.85 164.15,306.46 164.77,312.62 165.38,317.23 166.15,323.38 166.92,331.08 167.69,337.23 168.46,338.77 169.69,339.54 170.77,340.31 171.54,335.69 172.31,328 173.08,321.85 173.85,319.54 174.62,318.77 175.38,320.31 176.15,321.85 176.92,315.69 177.69,311.08 178.46,313.38 179.23,314.92 180,317.23 180.77,318.77 181.54,321.08 182.31,322.62 183.08,324.15 183.85,324.92 184.62,328 185.38,332.62 186.15,335.69 186.92,340.31 187.38,346.46 188.15,347.23 188.77,348 189.69,351.08 190.77,354.15 192.31,356.46 194.62,358 199.23,358.31 222.62,358.46"/>
<polygon class="gf" points="238.92,358.46 238.92,358.46 238.92,351.85 240,353.38 241.54,352.62 242.62,346.46 243.85,334.15 245.08,318.77 246.15,304.92 247.38,297.23 248.15,303.38 248.92,315.69 250,331.08 251.23,341.85 252.77,349.54 254.62,354.92 257.69,357.54 263.85,358.31 263.85,358.46"/>
<rect class="bx" x="238.46" y="293.85" width="65.08" height="64.62"/>
<line class="ax" x1="238.46" y1="293.85" x2="238.46" y2="358.46"/>
<line class="tk" x1="237.26" y1="296.75" x2="238.46" y2="296.75"/>
<text class="tl" x="235.26" y="297.75" text-anchor="end">100</text>
<line class="tk" x1="237.26" y1="309.1" x2="238.46" y2="309.1"/>
<text class="tl" x="235.26" y="310.1" text-anchor="end">80</text>
<line class="tk" x1="237.26" y1="321.44" x2="238.46" y2="321.44"/>
<text class="tl" x="235.26" y="322.44" text-anchor="end">60</text>
<line class="tk" x1="237.26" y1="333.78" x2="238.46" y2="333.78"/>
<text class="tl" x="235.26" y="334.78" text-anchor="end">40</text>
<line class="tk" x1="237.26" y1="346.12" x2="238.46" y2="346.12"/>
<text class="tl" x="235.26" y="347.12" text-anchor="end">20</text>
<line class="tk" x1="237.26" y1="358.46" x2="238.46" y2="358.46"/>
<text class="tl" x="235.26" y="359.46" text-anchor="end">0</text>
<line class="tk" x1="238.46" y1="358.46" x2="238.46" y2="359.66"/>
<text class="tl" x="238.46" y="363.46" text-anchor="middle">10<tspan class="sup" dy="-0.8">0</tspan></text>
<line class="tk" x1="254.73" y1="358.46" x2="254.73" y2="359.66"/>
<text class="tl" x="254.73" y="363.46" text-anchor="middle">10<tspan class="sup" dy="-0.8">1</tspan></text>
<line class="tk" x1="271" y1="358.46" x2="271" y2="359.66"/>
<text class="tl" x="271" y="363.46" text-anchor="middle">10<tspan class="sup" dy="-0.8">2</tspan></text>
<line class="tk" x1="287.27" y1="358.46" x2="287.27" y2="359.66"/>
<text class="tl" x="287.27" y="363.46" text-anchor="middle">10<tspan class="sup" dy="-0.8">3</tspan></text>
<line class="tk" x1="303.54" y1="358.46" x2="303.54" y2="359.66"/>
<text class="tl" x="303.54" y="363.46" text-anchor="middle">10<tspan class="sup" dy="-0.8">4</tspan></text>
<polyline class="bl" points="238.92,358.46 238.92,355.69 240,357.23 241.54,356.46 243.08,355.69 244.62,354.92 246.15,353.38 247.69,351.08 249.23,348 250.46,341.85 251.23,334.15 251.85,329.54 252.46,328 253.08,321.85 253.54,317.23 254.15,314.15 254.92,318.77 255.38,320.31 256.15,315.69 256.77,318.77 257.38,324.92 258.15,328 258.92,328.77 260,328 260.77,328.77 261.54,325.69 262.31,324.92 263.08,318.77 263.85,308 264.62,301.08 265.38,298 266.15,300.31 266.92,298.77 267.69,301.08 268.46,299.54 269.23,300.31 270,306.46 270.77,314.15 271.54,323.38 272.31,324.92 273.08,329.54 273.85,334.15 274.62,338.77 275.38,343.38 276.15,348 276.92,350.31 277.69,351.08 278.46,351.85 279.23,352.62 280,354.92 280.77,356.46 282.31,357.54 285.38,358 303.54,358"/>
<polygon class="gf" points="320.77,358.46 320.77,358.46 320.77,351.08 322,353.38 323.54,352.62 324.62,346.46 325.69,334.15 326.92,318.77 328.15,304.92 329.23,297.23 330,303.38 330.77,315.69 331.85,331.08 333.08,343.38 334.62,351.08 336.46,355.38 339.23,357.54 345.38,358.31 345.38,358.46"/>
<rect class="bx" x="320.46" y="293.85" width="64.92" height="64.62"/>
<line class="ax" x1="320.46" y1="293.85" x2="320.46" y2="358.46"/>
<line class="tk" x1="319.26" y1="296.75" x2="320.46" y2="296.75"/>
<text class="tl" x="317.26" y="297.75" text-anchor="end">100</text>
<line class="tk" x1="319.26" y1="309.1" x2="320.46" y2="309.1"/>
<text class="tl" x="317.26" y="310.1" text-anchor="end">80</text>
<line class="tk" x1="319.26" y1="321.44" x2="320.46" y2="321.44"/>
<text class="tl" x="317.26" y="322.44" text-anchor="end">60</text>
<line class="tk" x1="319.26" y1="333.78" x2="320.46" y2="333.78"/>
<text class="tl" x="317.26" y="334.78" text-anchor="end">40</text>
<line class="tk" x1="319.26" y1="346.12" x2="320.46" y2="346.12"/>
<text class="tl" x="317.26" y="347.12" text-anchor="end">20</text>
<line class="tk" x1="319.26" y1="358.46" x2="320.46" y2="358.46"/>
<text class="tl" x="317.26" y="359.46" text-anchor="end">0</text>
<line class="tk" x1="320.46" y1="358.46" x2="320.46" y2="359.66"/>
<text class="tl" x="320.46" y="363.46" text-anchor="middle">10<tspan class="sup" dy="-0.8">0</tspan></text>
<line class="tk" x1="336.69" y1="358.46" x2="336.69" y2="359.66"/>
<text class="tl" x="336.69" y="363.46" text-anchor="middle">10<tspan class="sup" dy="-0.8">1</tspan></text>
<line class="tk" x1="352.92" y1="358.46" x2="352.92" y2="359.66"/>
<text class="tl" x="352.92" y="363.46" text-anchor="middle">10<tspan class="sup" dy="-0.8">2</tspan></text>
<line class="tk" x1="369.15" y1="358.46" x2="369.15" y2="359.66"/>
<text class="tl" x="369.15" y="363.46" text-anchor="middle">10<tspan class="sup" dy="-0.8">3</tspan></text>
<line class="tk" x1="385.38" y1="358.46" x2="385.38" y2="359.66"/>
<text class="tl" x="385.38" y="363.46" text-anchor="middle">10<tspan class="sup" dy="-0.8">4</tspan></text>
<polyline class="bl" points="320.77,358.46 320.77,352.62 321.54,356.46 323.08,356.46 324.62,355.69 326.15,354.15 327.69,351.85 329.23,349.54 330.77,345.69 331.85,340.31 332.77,334.15 333.85,324.92 334.62,315.69 335.38,308 336.15,304.92 336.92,300.31 337.69,297.23 338.15,300.31 338.62,306.46 339.23,315.69 340,324.92 340.77,331.08 341.54,334.15 342.31,335.69 343.08,337.23 344.15,336.92 345.08,335.69 346.15,332.62 346.92,329.54 347.69,328 348.46,326.46 349.23,321.85 349.69,318 350.31,315.69 351.23,318.77 352.31,323.38 353.08,328 353.85,332.62 354.62,335.69 355.38,334.92 356.15,335.69 356.92,337.23 357.69,338.77 358.46,341.08 359.23,341.85 360,341.08 360.77,341.85 361.54,344.15 362.31,346.46 363.08,348.77 363.85,349.54 364.62,351.08 365.38,353.38 366.92,354.15 368.46,353.85 370,354.15 371.54,354.92 373.08,355.69 374.62,356.77 376.15,357.54 379.23,358 385.38,358.31"/>
<polygon class="gf" points="400.46,358.77 400.46,358.77 400.46,354.15 401.54,353.38 403.08,351.08 404.62,344.92 405.69,332.62 406.62,318.77 407.69,303.38 408.62,297.23 409.23,301.85 410,315.69 411.08,331.08 412.31,343.38 413.85,351.08 415.85,355.69 419.23,358 425.38,358.77 425.38,358.77"/>
<rect class="bx" x="400.31" y="294.15" width="65.08" height="64.62"/>
<line class="ax" x1="400.31" y1="294.15" x2="400.31" y2="358.77"/>
<line class="tk" x1="399.11" y1="297.06" x2="400.31" y2="297.06"/>
<text class="tl" x="397.11" y="298.06" text-anchor="end">100</text>
<line class="tk" x1="399.11" y1="309.4" x2="400.31" y2="309.4"/>
<text class="tl" x="397.11" y="310.4" text-anchor="end">80</text>
<line class="tk" x1="399.11" y1="321.74" x2="400.31" y2="321.74"/>
<text class="tl" x="397.11" y="322.74" text-anchor="end">60</text>
<line class="tk" x1="399.11" y1="334.09" x2="400.31" y2="334.09"/>
<text class="tl" x="397.11" y="335.09" text-anchor="end">40</text>
<line class="tk" x1="399.11" y1="346.43" x2="400.31" y2="346.43"/>
<text class="tl" x="397.11" y="347.43" text-anchor="end">20</text>
<line class="tk" x1="399.11" y1="358.77" x2="400.31" y2="358.77"/>
<text class="tl" x="397.11" y="359.77" text-anchor="end">0</text>
<line class="tk" x1="400.31" y1="358.77" x2="400.31" y2="359.97"/>
<text class="tl" x="400.31" y="363.77" text-anchor="middle">10<tspan class="sup" dy="-0.8">0</tspan></text>
<line class="tk" x1="416.58" y1="358.77" x2="416.58" y2="359.97"/>
<text class="tl" x="416.58" y="363.77" text-anchor="middle">10<tspan class="sup" dy="-0.8">1</tspan></text>
<line class="tk" x1="432.85" y1="358.77" x2="432.85" y2="359.97"/>
<text class="tl" x="432.85" y="363.77" text-anchor="middle">10<tspan class="sup" dy="-0.8">2</tspan></text>
<line class="tk" x1="449.12" y1="358.77" x2="449.12" y2="359.97"/>
<text class="tl" x="449.12" y="363.77" text-anchor="middle">10<tspan class="sup" dy="-0.8">3</tspan></text>
<line class="tk" x1="465.38" y1="358.77" x2="465.38" y2="359.97"/>
<text class="tl" x="465.38" y="363.77" text-anchor="middle">10<tspan class="sup" dy="-0.8">4</tspan></text>
<polyline class="bl" points="400.46,358.77 400.46,351.08 401.08,355.69 402.31,356.46 403.85,355.69 405.38,354.15 406.62,351.08 407.69,346.46 408.46,341.85 409.23,337.23 410,335.69 410.77,329.54 411.54,323.38 412.31,318.77 413.08,314.15 413.85,309.54 414.62,300.31 415.08,298 415.85,299.54 416.46,301.85 417.08,306.46 417.69,308 418.15,314.15 418.77,321.85 419.54,332.62 420.31,340.31 421.08,344.92 421.85,346.46 422.62,344.92 423.54,342.62 424.62,341.08 425.38,340.31 426.15,337.23 426.92,332.62 427.69,331.85 428.46,332.62 429.23,331.08 430,331.85 430.77,330.31 431.54,332.62 432.31,337.23 433.08,343.38 433.85,345.69 434.62,347.23 435.38,349.54 436.15,351.85 437.69,355.69 439.23,357.54 442.31,358.46 465.38,358.77"/>
<polygon class="gf" points="158.92,441.46 158.92,441 160,437.15 161.08,431 162.31,420.23 163.38,406.38 164.62,392.54 165.69,381.77 166.62,387.92 167.38,400.23 168.46,412.54 169.69,421.77 171.23,429.46 172.77,435.62 174.62,439.46 179.23,441.15 185.38,441.46 185.38,441.46"/>
<rect class="bx" x="158" y="376.85" width="64.31" height="64.62"/>
<line class="ax" x1="158" y1="376.85" x2="158" y2="441.46"/>
<line class="tk" x1="156.8" y1="379.75" x2="158" y2="379.75"/>
<text class="tl" x="154.8" y="380.75" text-anchor="end">100</text>
<line class="tk" x1="156.8" y1="392.1" x2="158" y2="392.1"/>
<text class="tl" x="154.8" y="393.1" text-anchor="end">80</text>
<line class="tk" x1="156.8" y1="404.44" x2="158" y2="404.44"/>
<text class="tl" x="154.8" y="405.44" text-anchor="end">60</text>
<line class="tk" x1="156.8" y1="416.78" x2="158" y2="416.78"/>
<text class="tl" x="154.8" y="417.78" text-anchor="end">40</text>
<line class="tk" x1="156.8" y1="429.12" x2="158" y2="429.12"/>
<text class="tl" x="154.8" y="430.12" text-anchor="end">20</text>
<line class="tk" x1="156.8" y1="441.46" x2="158" y2="441.46"/>
<text class="tl" x="154.8" y="442.46" text-anchor="end">0</text>
<line class="tk" x1="158" y1="441.46" x2="158" y2="442.66"/>
<text class="tl" x="158" y="446.46" text-anchor="middle">10<tspan class="sup" dy="-0.8">0</tspan></text>
<line class="tk" x1="174.08" y1="441.46" x2="174.08" y2="442.66"/>
<text class="tl" x="174.08" y="446.46" text-anchor="middle">10<tspan class="sup" dy="-0.8">1</tspan></text>
<line class="tk" x1="190.15" y1="441.46" x2="190.15" y2="442.66"/>
<text class="tl" x="190.15" y="446.46" text-anchor="middle">10<tspan class="sup" dy="-0.8">2</tspan></text>
<line class="tk" x1="206.23" y1="441.46" x2="206.23" y2="442.66"/>
<text class="tl" x="206.23" y="446.46" text-anchor="middle">10<tspan class="sup" dy="-0.8">3</tspan></text>
<line class="tk" x1="222.31" y1="441.46" x2="222.31" y2="442.66"/>
<text class="tl" x="222.31" y="446.46" text-anchor="middle">10<tspan class="sup" dy="-0.8">4</tspan></text>
<polyline class="bl" points="158,441.46 158,376.85 158.46,392.54 159.23,394.08 160,391 160.77,384.85 161.54,381.77 162.31,381 163.08,382.54 163.54,381 164.15,383.31 164.77,386.38 165.38,392.54 165.85,400.23 166.46,407.92 166.92,414.08 167.69,417.15 168.46,417.92 169.23,420.23 170,423.31 170.77,424.85 171.54,421.77 172.31,418.69 173.08,415.62 173.85,412.54 174.62,407.92 175.38,404.85 176.15,406.38 176.92,394.08 177.38,400.23 178,409.46 178.46,411 178.92,406.38 179.54,403.31 180.31,400.23 181.23,399.46 182,403.31 182.77,407.92 183.54,411 184.62,409.46 185.38,407.92 186.15,411.77 186.92,411 187.38,414.08 188.15,418.69 188.77,423.31 189.69,424.08 190.31,424.85 190.92,427.92 191.54,430.23 192.31,432.54 193.08,434.85 194.62,437.15 196.15,439.46 198.46,440.54 202.31,441.15 222.31,441.46"/>
<polygon class="gf" points="239.54,441.46 239.54,441.46 239.54,438.69 240.46,438.69 241.54,435.62 242.77,429.46 243.85,417.15 244.92,404.85 246,391 246.92,380.23 247.85,387.92 248.77,400.23 250,414.08 251.23,424.85 252.77,432.54 254.62,437.92 257.69,440.54 263.85,441.46 263.85,441.46"/>
<rect class="bx" x="238.46" y="376.85" width="65.08" height="64.62"/>
<line class="ax" x1="238.46" y1="376.85" x2="238.46" y2="441.46"/>
<line class="tk" x1="237.26" y1="379.75" x2="238.46" y2="379.75"/>
<text class="tl" x="235.26" y="380.75" text-anchor="end">100</text>
<line class="tk" x1="237.26" y1="392.1" x2="238.46" y2="392.1"/>
<text class="tl" x="235.26" y="393.1" text-anchor="end">80</text>
<line class="tk" x1="237.26" y1="404.44" x2="238.46" y2="404.44"/>
<text class="tl" x="235.26" y="405.44" text-anchor="end">60</text>
<line class="tk" x1="237.26" y1="416.78" x2="238.46" y2="416.78"/>
<text class="tl" x="235.26" y="417.78" text-anchor="end">40</text>
<line class="tk" x1="237.26" y1="429.12" x2="238.46" y2="429.12"/>
<text class="tl" x="235.26" y="430.12" text-anchor="end">20</text>
<line class="tk" x1="237.26" y1="441.46" x2="238.46" y2="441.46"/>
<text class="tl" x="235.26" y="442.46" text-anchor="end">0</text>
<line class="tk" x1="238.46" y1="441.46" x2="238.46" y2="442.66"/>
<text class="tl" x="238.46" y="446.46" text-anchor="middle">10<tspan class="sup" dy="-0.8">0</tspan></text>
<line class="tk" x1="254.73" y1="441.46" x2="254.73" y2="442.66"/>
<text class="tl" x="254.73" y="446.46" text-anchor="middle">10<tspan class="sup" dy="-0.8">1</tspan></text>
<line class="tk" x1="271" y1="441.46" x2="271" y2="442.66"/>
<text class="tl" x="271" y="446.46" text-anchor="middle">10<tspan class="sup" dy="-0.8">2</tspan></text>
<line class="tk" x1="287.27" y1="441.46" x2="287.27" y2="442.66"/>
<text class="tl" x="287.27" y="446.46" text-anchor="middle">10<tspan class="sup" dy="-0.8">3</tspan></text>
<line class="tk" x1="303.54" y1="441.46" x2="303.54" y2="442.66"/>
<text class="tl" x="303.54" y="446.46" text-anchor="middle">10<tspan class="sup" dy="-0.8">4</tspan></text>
<polyline class="bl" points="239.23,441.46 239.23,427.15 240,436.38 240.77,437.15 241.54,435.62 242.31,434.08 243.54,431 244.62,427.92 245.85,423.31 246.92,418.69 248,414.85 248.77,413.31 249.54,406.38 250.31,397.92 251.08,394.85 251.85,392.54 252.77,390.23 253.54,387.15 254.15,385.62 254.62,392.54 255.38,400.23 256.15,406.38 256.92,407.92 257.69,406.38 258.46,401.77 259.23,395.62 260,387.92 260.77,380.23 261.23,383.31 261.69,389.46 262.31,394.08 263.08,396.38 263.85,401.77 264.62,405.62 265.38,407.15 266.15,414.08 266.92,420.23 267.69,424.85 268.46,429.46 269.23,434.08 270,436.38 271.23,438.69 272.31,440.54 274.62,441.31 303.54,441.46"/>
<polygon class="gf" points="320,441.46 320,441.46 320,436.38 321.08,437.92 322.62,437.15 323.85,431 325.08,417.15 326.31,401.77 327.54,387.92 328.46,381 329.23,386.38 330,398.69 331.08,414.08 332.31,426.38 333.85,434.08 335.85,438.69 339.23,441 345.38,441.46 345.38,441.46"/>
<rect class="bx" x="320" y="376.38" width="65.08" height="65.08"/>
<line class="ax" x1="320" y1="376.38" x2="320" y2="441.46"/>
<line class="tk" x1="318.8" y1="379.31" x2="320" y2="379.31"/>
<text class="tl" x="316.8" y="380.31" text-anchor="end">100</text>
<line class="tk" x1="318.8" y1="391.74" x2="320" y2="391.74"/>
<text class="tl" x="316.8" y="392.74" text-anchor="end">80</text>
<line class="tk" x1="318.8" y1="404.17" x2="320" y2="404.17"/>
<text class="tl" x="316.8" y="405.17" text-anchor="end">60</text>
<line class="tk" x1="318.8" y1="416.6" x2="320" y2="416.6"/>
<text class="tl" x="316.8" y="417.6" text-anchor="end">40</text>
<line class="tk" x1="318.8" y1="429.03" x2="320" y2="429.03"/>
<text class="tl" x="316.8" y="430.03" text-anchor="end">20</text>
<line class="tk" x1="318.8" y1="441.46" x2="320" y2="441.46"/>
<text class="tl" x="316.8" y="442.46" text-anchor="end">0</text>
<line class="tk" x1="320" y1="441.46" x2="320" y2="442.66"/>
<text class="tl" x="320" y="446.46" text-anchor="middle">10<tspan class="sup" dy="-0.8">0</tspan></text>
<line class="tk" x1="336.27" y1="441.46" x2="336.27" y2="442.66"/>
<text class="tl" x="336.27" y="446.46" text-anchor="middle">10<tspan class="sup" dy="-0.8">1</tspan></text>
<line class="tk" x1="352.54" y1="441.46" x2="352.54" y2="442.66"/>
<text class="tl" x="352.54" y="446.46" text-anchor="middle">10<tspan class="sup" dy="-0.8">2</tspan></text>
<line class="tk" x1="368.81" y1="441.46" x2="368.81" y2="442.66"/>
<text class="tl" x="368.81" y="446.46" text-anchor="middle">10<tspan class="sup" dy="-0.8">3</tspan></text>
<line class="tk" x1="385.08" y1="441.46" x2="385.08" y2="442.66"/>
<text class="tl" x="385.08" y="446.46" text-anchor="middle">10<tspan class="sup" dy="-0.8">4</tspan></text>
<polyline class="bl" points="320,441.46 320,438.69 321.08,440.54 322.62,441 324.15,440.23 325.38,439.46 326.92,437.15 328.46,434.08 329.69,431 330.77,426.38 331.85,420.23 332.77,414.08 333.85,406.38 334.62,400.23 335.38,397.15 336.15,394.08 336.92,383.31 337.38,381 338,386.38 338.62,394.08 339.23,392.54 340,401.77 340.77,414.08 341.54,421.77 342.31,422.54 343.08,423.31 343.85,424.08 344.62,426.38 345.38,424.85 346.15,417.15 346.92,412.54 347.69,407.92 348.46,401.77 349.23,395.62 350,392.54 350.77,394.08 351.54,401.77 352.31,406.38 353.08,407.92 353.85,411 354.62,412.54 355.38,418.69 356.15,423.31 356.92,420.23 357.69,420.23 358.46,421.77 359.23,421.77 360,423.31 360.77,424.85 361.54,427.92 362.31,429.46 363.08,431.77 363.85,434.08 365.38,435.62 366.92,437.15 368.46,438.69 370.77,439.46 373.08,440.23 374.62,441 377.69,441.31 380.77,441.62 385.08,441.62"/>
<polygon class="gf" points="400.77,442.54 400.77,442.54 400.77,438.69 402,437.15 403.85,434.08 404.92,427.92 406.15,415.62 407.23,400.23 408.46,387.92 409.69,381 410.46,387.92 411.23,401.77 412.31,417.15 413.38,429.46 414.92,435.62 416.92,439.46 420.77,441.46 426.92,442.08 426.92,442.54"/>
<rect class="bx" x="400.46" y="377.15" width="64.92" height="65.38"/>
<line class="ax" x1="400.46" y1="377.15" x2="400.46" y2="442.54"/>
<line class="tk" x1="399.26" y1="380.1" x2="400.46" y2="380.1"/>
<text class="tl" x="397.26" y="381.1" text-anchor="end">100</text>
<line class="tk" x1="399.26" y1="392.58" x2="400.46" y2="392.58"/>
<text class="tl" x="397.26" y="393.58" text-anchor="end">80</text>
<line class="tk" x1="399.26" y1="405.07" x2="400.46" y2="405.07"/>
<text class="tl" x="397.26" y="406.07" text-anchor="end">60</text>
<line class="tk" x1="399.26" y1="417.56" x2="400.46" y2="417.56"/>
<text class="tl" x="397.26" y="418.56" text-anchor="end">40</text>
<line class="tk" x1="399.26" y1="430.05" x2="400.46" y2="430.05"/>
<text class="tl" x="397.26" y="431.05" text-anchor="end">20</text>
<line class="tk" x1="399.26" y1="442.54" x2="400.46" y2="442.54"/>
<text class="tl" x="397.26" y="443.54" text-anchor="end">0</text>
<line class="tk" x1="400.46" y1="442.54" x2="400.46" y2="443.74"/>
<text class="tl" x="400.46" y="447.54" text-anchor="middle">10<tspan class="sup" dy="-0.8">0</tspan></text>
<line class="tk" x1="416.69" y1="442.54" x2="416.69" y2="443.74"/>
<text class="tl" x="416.69" y="447.54" text-anchor="middle">10<tspan class="sup" dy="-0.8">1</tspan></text>
<line class="tk" x1="432.92" y1="442.54" x2="432.92" y2="443.74"/>
<text class="tl" x="432.92" y="447.54" text-anchor="middle">10<tspan class="sup" dy="-0.8">2</tspan></text>
<line class="tk" x1="449.15" y1="442.54" x2="449.15" y2="443.74"/>
<text class="tl" x="449.15" y="447.54" text-anchor="middle">10<tspan class="sup" dy="-0.8">3</tspan></text>
<line class="tk" x1="465.38" y1="442.54" x2="465.38" y2="443.74"/>
<text class="tl" x="465.38" y="447.54" text-anchor="middle">10<tspan class="sup" dy="-0.8">4</tspan></text>
<polyline class="bl" points="400.77,442.54 400.77,434.85 401.54,439.46 403.08,441 404.62,439.46 406.15,437.92 407.69,435.62 409.23,432.54 410.77,428.69 411.85,423.31 412.77,417.15 413.38,411 414.31,407.92 415.08,400.23 415.69,389.46 416.15,386.38 416.62,381.77 417.23,387.92 417.69,384.85 418.46,392.54 419.23,401.77 420,411 420.77,420.23 421.54,426.38 422.31,431 423.54,433.31 424.62,433.31 426.15,432.54 427.69,430.23 428.77,427.92 429.69,424.85 430.31,425.62 430.92,427.92 431.85,426.38 433.08,427.15 433.85,426.38 434.62,424.85 435.38,428.69 436.15,430.23 436.92,429.46 437.69,430.23 438.46,431 439.23,432.54 440.46,434.08 441.54,435.62 443.08,437.92 445.38,439.46 448.46,441 451.54,441.77 456.15,442.08 460.77,442.08 465.38,442.08"/>
<polygon class="gf" points="158.92,521.54 158.92,520.77 160,517.69 161.08,511.54 162.31,499.23 163.54,483.85 164.62,468.46 165.54,460 166.46,468.46 167.23,480.77 168.46,494.62 169.69,503.85 171.23,511.54 172.77,516.15 174.62,519.54 179.23,521.08 185.38,521.38 185.38,521.54"/>
<rect class="bx" x="158" y="456.46" width="64.62" height="65.08"/>
<line class="ax" x1="158" y1="456.46" x2="158" y2="521.54"/>
<line class="tk" x1="156.8" y1="459.39" x2="158" y2="459.39"/>
<text class="tl" x="154.8" y="460.39" text-anchor="end">100</text>
<line class="tk" x1="156.8" y1="471.82" x2="158" y2="471.82"/>
<text class="tl" x="154.8" y="472.82" text-anchor="end">80</text>
<line class="tk" x1="156.8" y1="484.25" x2="158" y2="484.25"/>
<text class="tl" x="154.8" y="485.25" text-anchor="end">60</text>
<line class="tk" x1="156.8" y1="496.68" x2="158" y2="496.68"/>
<text class="tl" x="154.8" y="497.68" text-anchor="end">40</text>
<line class="tk" x1="156.8" y1="509.11" x2="158" y2="509.11"/>
<text class="tl" x="154.8" y="510.11" text-anchor="end">20</text>
<line class="tk" x1="156.8" y1="521.54" x2="158" y2="521.54"/>
<text class="tl" x="154.8" y="522.54" text-anchor="end">0</text>
<line class="tk" x1="158" y1="521.54" x2="158" y2="522.74"/>
<text class="tl" x="158" y="526.54" text-anchor="middle">10<tspan class="sup" dy="-0.8">0</tspan></text>
<line class="tk" x1="174.15" y1="521.54" x2="174.15" y2="522.74"/>
<text class="tl" x="174.15" y="526.54" text-anchor="middle">10<tspan class="sup" dy="-0.8">1</tspan></text>
<line class="tk" x1="190.31" y1="521.54" x2="190.31" y2="522.74"/>
<text class="tl" x="190.31" y="526.54" text-anchor="middle">10<tspan class="sup" dy="-0.8">2</tspan></text>
<line class="tk" x1="206.46" y1="521.54" x2="206.46" y2="522.74"/>
<text class="tl" x="206.46" y="526.54" text-anchor="middle">10<tspan class="sup" dy="-0.8">3</tspan></text>
<line class="tk" x1="222.62" y1="521.54" x2="222.62" y2="522.74"/>
<text class="tl" x="222.62" y="526.54" text-anchor="middle">10<tspan class="sup" dy="-0.8">4</tspan></text>
<polyline class="bl" points="158,521.54 158,456.46 158.46,496.15 159.23,494.62 160,488.46 160.77,480.77 161.54,473.08 162.31,466.92 163.08,463.85 163.85,460 164.62,465.38 165.38,474.62 166.15,479.23 166.92,482.31 167.69,488.46 168.46,494.62 169.23,499.23 170,494.62 170.77,490 171.54,487.69 172.31,486.15 173.08,484.62 173.85,480.77 174.62,473.08 175.08,469.23 175.85,477.69 176.46,470 177.23,465.38 178,471.54 178.46,474.62 179.23,466.92 180,463.08 180.77,466.92 181.54,470 182.31,468.46 183.08,474.62 183.85,480.77 184.62,483.85 185.38,490 186.15,491.54 186.92,496.15 187.69,499.23 188.46,498.46 189.23,500.77 190,502.31 190.77,503.85 191.54,501.54 192.31,503.08 193.08,506.92 193.85,510.77 194.62,513.08 195.38,512.31 196.15,513.08 196.92,514.62 198.46,517.69 200,520 202.31,521.08 222.62,521.23"/>
<polygon class="gf" points="239.54,521.54 239.54,521.54 239.54,519.23 240.77,517.69 242.31,514.62 243.54,508.46 244.62,496.15 245.85,480.77 246.92,466.92 248,460 248.77,465.38 249.69,477.69 250.77,493.08 252,505.38 253.54,513.08 255.38,517.69 258.46,520.15 264.62,521.23 264.62,521.54"/>
<rect class="bx" x="238.77" y="456.46" width="64.77" height="65.08"/>
<line class="ax" x1="238.77" y1="456.46" x2="238.77" y2="521.54"/>
<line class="tk" x1="237.57" y1="459.39" x2="238.77" y2="459.39"/>
<text class="tl" x="235.57" y="460.39" text-anchor="end">100</text>
<line class="tk" x1="237.57" y1="471.82" x2="238.77" y2="471.82"/>
<text class="tl" x="235.57" y="472.82" text-anchor="end">80</text>
<line class="tk" x1="237.57" y1="484.25" x2="238.77" y2="484.25"/>
<text class="tl" x="235.57" y="485.25" text-anchor="end">60</text>
<line class="tk" x1="237.57" y1="496.68" x2="238.77" y2="496.68"/>
<text class="tl" x="235.57" y="497.68" text-anchor="end">40</text>
<line class="tk" x1="237.57" y1="509.11" x2="238.77" y2="509.11"/>
<text class="tl" x="235.57" y="510.11" text-anchor="end">20</text>
<line class="tk" x1="237.57" y1="521.54" x2="238.77" y2="521.54"/>
<text class="tl" x="235.57" y="522.54" text-anchor="end">0</text>
<line class="tk" x1="238.77" y1="521.54" x2="238.77" y2="522.74"/>
<text class="tl" x="238.77" y="526.54" text-anchor="middle">10<tspan class="sup" dy="-0.8">0</tspan></text>
<line class="tk" x1="254.96" y1="521.54" x2="254.96" y2="522.74"/>
<text class="tl" x="254.96" y="526.54" text-anchor="middle">10<tspan class="sup" dy="-0.8">1</tspan></text>
<line class="tk" x1="271.15" y1="521.54" x2="271.15" y2="522.74"/>
<text class="tl" x="271.15" y="526.54" text-anchor="middle">10<tspan class="sup" dy="-0.8">2</tspan></text>
<line class="tk" x1="287.35" y1="521.54" x2="287.35" y2="522.74"/>
<text class="tl" x="287.35" y="526.54" text-anchor="middle">10<tspan class="sup" dy="-0.8">3</tspan></text>
<line class="tk" x1="303.54" y1="521.54" x2="303.54" y2="522.74"/>
<text class="tl" x="303.54" y="526.54" text-anchor="middle">10<tspan class="sup" dy="-0.8">4</tspan></text>
<polyline class="bl" points="239.23,521.54 239.23,513.08 240,517.69 240.77,516.92 242,516.15 243.08,514.62 244.62,512.31 246.15,510 247.69,507.69 248.77,505.38 249.69,502.31 250.46,496.15 251.23,490 252,485.38 252.77,480.77 253.38,479.23 254,482.31 254.62,484.62 255.38,483.85 256.15,483.08 256.92,482.31 257.69,477.69 258.46,471.54 259.23,465.38 260,460.77 260.77,463.85 261.54,468.46 262.31,471.54 263.08,473.08 263.54,480.77 264.15,486.92 265.08,487.69 265.69,490 266.31,496.15 266.92,500.77 267.69,502.31 268.46,503.85 269.23,506.92 270,509.23 270.77,510.77 271.54,513.08 272.31,516.15 273.38,518.46 274.62,520 277.69,521.08 303.54,521.23"/>
<polygon class="gf" points="320.77,521.54 320.77,521.54 320.77,516.15 322,517.69 323.54,516.15 324.92,508.46 326,496.15 327.23,480.77 328.46,465.38 329.54,460.77 330.31,465.38 331.08,477.69 332.31,493.08 333.54,505.38 335.08,513.08 336.92,517.69 340,520.15 346.15,521.08 346.15,521.54"/>
<rect class="bx" x="320.46" y="456.15" width="64.92" height="65.38"/>
<line class="ax" x1="320.46" y1="456.15" x2="320.46" y2="521.54"/>
<line class="tk" x1="319.26" y1="459.1" x2="320.46" y2="459.1"/>
<text class="tl" x="317.26" y="460.1" text-anchor="end">100</text>
<line class="tk" x1="319.26" y1="471.58" x2="320.46" y2="471.58"/>
<text class="tl" x="317.26" y="472.58" text-anchor="end">80</text>
<line class="tk" x1="319.26" y1="484.07" x2="320.46" y2="484.07"/>
<text class="tl" x="317.26" y="485.07" text-anchor="end">60</text>
<line class="tk" x1="319.26" y1="496.56" x2="320.46" y2="496.56"/>
<text class="tl" x="317.26" y="497.56" text-anchor="end">40</text>
<line class="tk" x1="319.26" y1="509.05" x2="320.46" y2="509.05"/>
<text class="tl" x="317.26" y="510.05" text-anchor="end">20</text>
<line class="tk" x1="319.26" y1="521.54" x2="320.46" y2="521.54"/>
<text class="tl" x="317.26" y="522.54" text-anchor="end">0</text>
<line class="tk" x1="320.46" y1="521.54" x2="320.46" y2="522.74"/>
<text class="tl" x="320.46" y="526.54" text-anchor="middle">10<tspan class="sup" dy="-0.8">0</tspan></text>
<line class="tk" x1="336.69" y1="521.54" x2="336.69" y2="522.74"/>
<text class="tl" x="336.69" y="526.54" text-anchor="middle">10<tspan class="sup" dy="-0.8">1</tspan></text>
<line class="tk" x1="352.92" y1="521.54" x2="352.92" y2="522.74"/>
<text class="tl" x="352.92" y="526.54" text-anchor="middle">10<tspan class="sup" dy="-0.8">2</tspan></text>
<line class="tk" x1="369.15" y1="521.54" x2="369.15" y2="522.74"/>
<text class="tl" x="369.15" y="526.54" text-anchor="middle">10<tspan class="sup" dy="-0.8">3</tspan></text>
<line class="tk" x1="385.38" y1="521.54" x2="385.38" y2="522.74"/>
<text class="tl" x="385.38" y="526.54" text-anchor="middle">10<tspan class="sup" dy="-0.8">4</tspan></text>
<polyline class="bl" points="320.77,521.54 320.77,519.23 321.54,520.77 323.08,520.46 324.62,520 326.15,519.23 327.69,517.69 329.23,515.38 330.77,511.54 332,506.92 333.08,502.31 334.15,496.15 335.08,490 335.85,482.31 336.46,474.62 337.08,468.46 337.69,464.62 338.31,471.54 338.92,480.77 339.54,486.92 340.46,488.46 341.23,487.69 341.85,491.54 342.31,496.15 343.08,496.92 343.85,496.15 344.62,493.08 345.38,488.46 346.15,486.92 346.92,480.77 347.69,471.54 348.46,466.92 349.23,463.85 349.69,460.77 350.31,463.85 350.92,468.46 351.54,473.08 352.31,476.15 353.08,479.23 353.54,473.08 354.15,480.77 354.62,488.46 355.08,493.08 355.69,493.85 356.15,494.62 356.92,496.15 357.69,499.23 358.46,499.23 359.23,498.46 360,498.46 360.77,499.23 361.54,500.77 362.31,503.08 363.08,505.38 363.85,507.69 364.62,510 365.38,511.54 366.92,513.85 368.46,515.38 370,516.15 371.54,516.92 373.08,518.46 374.62,519.54 376.92,520.46 380.77,521.08 385.38,521.08"/>
<polygon class="gf" points="400,521.54 400,521.54 400,516.15 401.08,517.69 402.62,516.15 404.15,511.54 405.38,499.23 406.46,480.77 407.54,465.38 408.46,460 409.23,465.38 410,480.77 411.08,496.15 412.31,508.46 413.85,514.62 415.85,518.46 419.23,520.46 425.38,521.08 425.38,521.54"/>
<rect class="bx" x="399.69" y="456.46" width="65.23" height="65.08"/>
<line class="ax" x1="399.69" y1="456.46" x2="399.69" y2="521.54"/>
<line class="tk" x1="398.49" y1="459.39" x2="399.69" y2="459.39"/>
<text class="tl" x="396.49" y="460.39" text-anchor="end">100</text>
<line class="tk" x1="398.49" y1="471.82" x2="399.69" y2="471.82"/>
<text class="tl" x="396.49" y="472.82" text-anchor="end">80</text>
<line class="tk" x1="398.49" y1="484.25" x2="399.69" y2="484.25"/>
<text class="tl" x="396.49" y="485.25" text-anchor="end">60</text>
<line class="tk" x1="398.49" y1="496.68" x2="399.69" y2="496.68"/>
<text class="tl" x="396.49" y="497.68" text-anchor="end">40</text>
<line class="tk" x1="398.49" y1="509.11" x2="399.69" y2="509.11"/>
<text class="tl" x="396.49" y="510.11" text-anchor="end">20</text>
<line class="tk" x1="398.49" y1="521.54" x2="399.69" y2="521.54"/>
<text class="tl" x="396.49" y="522.54" text-anchor="end">0</text>
<line class="tk" x1="399.69" y1="521.54" x2="399.69" y2="522.74"/>
<text class="tl" x="399.69" y="526.54" text-anchor="middle">10<tspan class="sup" dy="-0.8">0</tspan></text>
<line class="tk" x1="416" y1="521.54" x2="416" y2="522.74"/>
<text class="tl" x="416" y="526.54" text-anchor="middle">10<tspan class="sup" dy="-0.8">1</tspan></text>
<line class="tk" x1="432.31" y1="521.54" x2="432.31" y2="522.74"/>
<text class="tl" x="432.31" y="526.54" text-anchor="middle">10<tspan class="sup" dy="-0.8">2</tspan></text>
<line class="tk" x1="448.62" y1="521.54" x2="448.62" y2="522.74"/>
<text class="tl" x="448.62" y="526.54" text-anchor="middle">10<tspan class="sup" dy="-0.8">3</tspan></text>
<line class="tk" x1="464.92" y1="521.54" x2="464.92" y2="522.74"/>
<text class="tl" x="464.92" y="526.54" text-anchor="middle">10<tspan class="sup" dy="-0.8">4</tspan></text>
<polyline class="bl" points="400,521.54 400,516.92 400.77,520 402,520.77 403.54,520 405.08,518.92 406.62,517.69 408.15,515.38 409.23,512.31 410.31,506.92 411.08,499.23 411.85,491.54 412.77,485.38 413.54,480.77 414.31,474.62 415.08,466.92 415.85,460 416.46,463.85 417.08,465.38 417.69,466.92 418.31,474.62 418.92,483.85 419.54,494.62 420.31,503.85 421.08,508.46 422,510 423.08,510 424.15,507.69 425.38,506.15 426.46,504.62 427.69,502.31 428.77,500.77 429.69,501.54 430.62,503.85 431.54,506.92 432.46,509.23 433.38,510 434.62,511.54 436.15,513.85 438,516.15 440,518.46 442.31,520 445.38,520.77 464.92,521.08"/>
<rect class="bxb" x="102.35" y="589.52" width="81.02" height="81.87"/>
<line class="axb" x1="102.35" y1="589.52" x2="102.35" y2="671.38"/>
<line class="tk" x1="100.85" y1="589.52" x2="102.35" y2="589.52"/>
<text class="tlb" x="99.35" y="590.82" text-anchor="end">250</text>
<line class="tk" x1="100.85" y1="605.89" x2="102.35" y2="605.89"/>
<text class="tlb" x="99.35" y="607.19" text-anchor="end">200</text>
<line class="tk" x1="100.85" y1="622.27" x2="102.35" y2="622.27"/>
<text class="tlb" x="99.35" y="623.57" text-anchor="end">150</text>
<line class="tk" x1="100.85" y1="638.64" x2="102.35" y2="638.64"/>
<text class="tlb" x="99.35" y="639.94" text-anchor="end">100</text>
<line class="tk" x1="100.85" y1="655.01" x2="102.35" y2="655.01"/>
<text class="tlb" x="99.35" y="656.31" text-anchor="end">50</text>
<line class="tk" x1="100.85" y1="671.38" x2="102.35" y2="671.38"/>
<text class="tlb" x="99.35" y="672.68" text-anchor="end">0</text>
<line class="tk" x1="102.35" y1="671.38" x2="102.35" y2="672.88"/>
<text class="tlb" x="102.35" y="677.88" text-anchor="middle">10<tspan class="supb" dy="-1">0</tspan></text>
<line class="tk" x1="122.6" y1="671.38" x2="122.6" y2="672.88"/>
<text class="tlb" x="122.6" y="677.88" text-anchor="middle">10<tspan class="supb" dy="-1">1</tspan></text>
<line class="tk" x1="142.86" y1="671.38" x2="142.86" y2="672.88"/>
<text class="tlb" x="142.86" y="677.88" text-anchor="middle">10<tspan class="supb" dy="-1">2</tspan></text>
<line class="tk" x1="163.11" y1="671.38" x2="163.11" y2="672.88"/>
<text class="tlb" x="163.11" y="677.88" text-anchor="middle">10<tspan class="supb" dy="-1">3</tspan></text>
<line class="tk" x1="183.37" y1="671.38" x2="183.37" y2="672.88"/>
<text class="tlb" x="183.37" y="677.88" text-anchor="middle">10<tspan class="supb" dy="-1">4</tspan></text>
<line class="spk" x1="102.65" y1="622.31" x2="102.65" y2="643.46"/>
<polyline class="cb" points="102.98,643.46 103.62,641.35 105.1,632.88 106.58,618.08 107.85,607.5 108.69,602.85 109.75,604.33 110.38,605.81 111.44,613.85 112.5,624.42 113.56,635 114.62,641.35 116.31,647.69 117.79,652.98 118.85,656.15 120.54,659.33 122.02,662.5 124.13,665.67 126.25,666.73 128.37,667.37 130.48,668.42 132.6,668.85 134.71,669.27 136.83,669.9 138.31,667.79 139.58,663.56 140.63,656.15 141.48,647.69 142.54,645.58 143.81,641.35 144.65,643.46 145.71,649.81 146.77,654.04 148.46,659.33 150.15,663.56 151.63,665.67 153.12,667.79 154.81,669.27 156.92,670.54 160.1,670.96 183.37,670.96"/>
<rect class="bxb" x="256.75" y="590" width="81.25" height="81.25"/>
<line class="axb" x1="256.75" y1="590" x2="256.75" y2="671.25"/>
<line class="tk" x1="255.25" y1="590" x2="256.75" y2="590"/>
<text class="tlb" x="253.75" y="591.3" text-anchor="end">250</text>
<line class="tk" x1="255.25" y1="606.25" x2="256.75" y2="606.25"/>
<text class="tlb" x="253.75" y="607.55" text-anchor="end">200</text>
<line class="tk" x1="255.25" y1="622.5" x2="256.75" y2="622.5"/>
<text class="tlb" x="253.75" y="623.8" text-anchor="end">150</text>
<line class="tk" x1="255.25" y1="638.75" x2="256.75" y2="638.75"/>
<text class="tlb" x="253.75" y="640.05" text-anchor="end">100</text>
<line class="tk" x1="255.25" y1="655" x2="256.75" y2="655"/>
<text class="tlb" x="253.75" y="656.3" text-anchor="end">50</text>
<line class="tk" x1="255.25" y1="671.25" x2="256.75" y2="671.25"/>
<text class="tlb" x="253.75" y="672.55" text-anchor="end">0</text>
<line class="tk" x1="256.75" y1="671.25" x2="256.75" y2="672.75"/>
<text class="tlb" x="256.75" y="677.75" text-anchor="middle">10<tspan class="supb" dy="-1">0</tspan></text>
<line class="tk" x1="277.06" y1="671.25" x2="277.06" y2="672.75"/>
<text class="tlb" x="277.06" y="677.75" text-anchor="middle">10<tspan class="supb" dy="-1">1</tspan></text>
<line class="tk" x1="297.38" y1="671.25" x2="297.38" y2="672.75"/>
<text class="tlb" x="297.38" y="677.75" text-anchor="middle">10<tspan class="supb" dy="-1">2</tspan></text>
<line class="tk" x1="317.69" y1="671.25" x2="317.69" y2="672.75"/>
<text class="tlb" x="317.69" y="677.75" text-anchor="middle">10<tspan class="supb" dy="-1">3</tspan></text>
<line class="tk" x1="338" y1="671.25" x2="338" y2="672.75"/>
<text class="tlb" x="338" y="677.75" text-anchor="middle">10<tspan class="supb" dy="-1">4</tspan></text>
<line class="spk" x1="257.05" y1="650" x2="257.05" y2="656.25"/>
<polyline class="cb" points="257,656.25 258,655 259.5,650 260.5,646.25 262,645 263.75,645 265.5,645 267,650 268.75,655 270.5,660 272.5,662.5 275,663.75 277.5,664.5 280,665.5 282.5,666.75 285,667.5 287.5,668.5 290,669.25 291.25,668.75 292.5,662.5 293.75,652.5 295,642.5 296.25,635 297,633.75 298,637.5 299.5,645 301.25,655 303,661.25 305,665 307.5,667.5 310,668.75 313.75,670 317.5,670.5 325,670.75 338,670.75"/>
<rect class="bxb" x="410.92" y="590.23" width="81.58" height="81.31"/>
<line class="axb" x1="410.92" y1="590.23" x2="410.92" y2="671.54"/>
<line class="tk" x1="409.42" y1="590.23" x2="410.92" y2="590.23"/>
<text class="tlb" x="407.92" y="591.53" text-anchor="end">250</text>
<line class="tk" x1="409.42" y1="606.49" x2="410.92" y2="606.49"/>
<text class="tlb" x="407.92" y="607.79" text-anchor="end">200</text>
<line class="tk" x1="409.42" y1="622.75" x2="410.92" y2="622.75"/>
<text class="tlb" x="407.92" y="624.05" text-anchor="end">150</text>
<line class="tk" x1="409.42" y1="639.02" x2="410.92" y2="639.02"/>
<text class="tlb" x="407.92" y="640.32" text-anchor="end">100</text>
<line class="tk" x1="409.42" y1="655.28" x2="410.92" y2="655.28"/>
<text class="tlb" x="407.92" y="656.58" text-anchor="end">50</text>
<line class="tk" x1="409.42" y1="671.54" x2="410.92" y2="671.54"/>
<text class="tlb" x="407.92" y="672.84" text-anchor="end">0</text>
<line class="tk" x1="410.92" y1="671.54" x2="410.92" y2="673.04"/>
<text class="tlb" x="410.92" y="678.04" text-anchor="middle">10<tspan class="supb" dy="-1">0</tspan></text>
<line class="tk" x1="431.32" y1="671.54" x2="431.32" y2="673.04"/>
<text class="tlb" x="431.32" y="678.04" text-anchor="middle">10<tspan class="supb" dy="-1">1</tspan></text>
<line class="tk" x1="451.71" y1="671.54" x2="451.71" y2="673.04"/>
<text class="tlb" x="451.71" y="678.04" text-anchor="middle">10<tspan class="supb" dy="-1">2</tspan></text>
<line class="tk" x1="472.11" y1="671.54" x2="472.11" y2="673.04"/>
<text class="tlb" x="472.11" y="678.04" text-anchor="middle">10<tspan class="supb" dy="-1">3</tspan></text>
<line class="tk" x1="492.5" y1="671.54" x2="492.5" y2="673.04"/>
<text class="tlb" x="492.5" y="678.04" text-anchor="middle">10<tspan class="supb" dy="-1">4</tspan></text>
<line class="spk" x1="411.22" y1="617.69" x2="411.22" y2="648.65"/>
<polyline class="cb" points="411.19,648.65 412.54,647.31 413.88,639.23 415.23,632.5 416.31,631.15 417.92,633.31 419.27,633.85 420.62,641.92 421.69,647.31 422.77,652.69 423.85,658.08 425.19,662.12 426.54,664 428.69,664.81 430.58,663.46 432.46,664 434.62,665.62 436.77,667.5 439.46,668.85 442.15,669.65 444.85,668.85 446.73,664.81 448.08,655.38 449.42,644.62 450.77,639.23 452.12,643.27 453.46,651.35 454.81,658.08 456.69,661.31 458.31,663.46 460.19,667.5 462.08,670.19 464.23,671 469.62,671.27 492.5,671.27"/>
<rect class="bxb" x="102.35" y="691.5" width="81.02" height="81.44"/>
<line class="axb" x1="102.35" y1="691.5" x2="102.35" y2="772.94"/>
<line class="tk" x1="100.85" y1="691.5" x2="102.35" y2="691.5"/>
<text class="tlb" x="99.35" y="692.8" text-anchor="end">250</text>
<line class="tk" x1="100.85" y1="707.79" x2="102.35" y2="707.79"/>
<text class="tlb" x="99.35" y="709.09" text-anchor="end">200</text>
<line class="tk" x1="100.85" y1="724.08" x2="102.35" y2="724.08"/>
<text class="tlb" x="99.35" y="725.38" text-anchor="end">150</text>
<line class="tk" x1="100.85" y1="740.37" x2="102.35" y2="740.37"/>
<text class="tlb" x="99.35" y="741.67" text-anchor="end">100</text>
<line class="tk" x1="100.85" y1="756.65" x2="102.35" y2="756.65"/>
<text class="tlb" x="99.35" y="757.95" text-anchor="end">50</text>
<line class="tk" x1="100.85" y1="772.94" x2="102.35" y2="772.94"/>
<text class="tlb" x="99.35" y="774.24" text-anchor="end">0</text>
<line class="tk" x1="102.35" y1="772.94" x2="102.35" y2="774.44"/>
<text class="tlb" x="102.35" y="779.44" text-anchor="middle">10<tspan class="supb" dy="-1">0</tspan></text>
<line class="tk" x1="122.6" y1="772.94" x2="122.6" y2="774.44"/>
<text class="tlb" x="122.6" y="779.44" text-anchor="middle">10<tspan class="supb" dy="-1">1</tspan></text>
<line class="tk" x1="142.86" y1="772.94" x2="142.86" y2="774.44"/>
<text class="tlb" x="142.86" y="779.44" text-anchor="middle">10<tspan class="supb" dy="-1">2</tspan></text>
<line class="tk" x1="163.11" y1="772.94" x2="163.11" y2="774.44"/>
<text class="tlb" x="163.11" y="779.44" text-anchor="middle">10<tspan class="supb" dy="-1">3</tspan></text>
<line class="tk" x1="183.37" y1="772.94" x2="183.37" y2="774.44"/>
<text class="tlb" x="183.37" y="779.44" text-anchor="middle">10<tspan class="supb" dy="-1">4</tspan></text>
<line class="spk" x1="102.65" y1="704.62" x2="102.65" y2="731.06"/>
<polyline class="cb" points="102.98,731.06 103.62,727.88 104.46,724.71 105.52,717.31 106.58,708.85 107.63,704.62 108.69,708.85 109.96,710.96 110.81,719.42 111.65,727.88 112.5,738.46 113.56,749.04 114.62,757.5 115.67,761.73 117.79,764.9 119.9,767.02 122.02,767.65 124.13,768.08 126.25,769.13 128.37,770.62 130.48,771.67 132.6,772.31 135.77,772.73 137.46,771.25 138.94,765.96 140,757.5 141.06,749.04 142.12,743.75 143.17,740.58 144.23,744.81 145.29,749.04 146.35,754.33 148.04,760.67 149.52,763.85 151.63,767.02 153.75,769.77 155.87,771.46 159.04,772.31 165.38,772.52 183.37,772.73"/>
<rect class="bxb" x="256.92" y="691.5" width="80.81" height="81.23"/>
<line class="axb" x1="256.92" y1="691.5" x2="256.92" y2="772.73"/>
<line class="tk" x1="255.42" y1="691.5" x2="256.92" y2="691.5"/>
<text class="tlb" x="253.92" y="692.8" text-anchor="end">250</text>
<line class="tk" x1="255.42" y1="707.75" x2="256.92" y2="707.75"/>
<text class="tlb" x="253.92" y="709.05" text-anchor="end">200</text>
<line class="tk" x1="255.42" y1="723.99" x2="256.92" y2="723.99"/>
<text class="tlb" x="253.92" y="725.29" text-anchor="end">150</text>
<line class="tk" x1="255.42" y1="740.24" x2="256.92" y2="740.24"/>
<text class="tlb" x="253.92" y="741.54" text-anchor="end">100</text>
<line class="tk" x1="255.42" y1="756.48" x2="256.92" y2="756.48"/>
<text class="tlb" x="253.92" y="757.78" text-anchor="end">50</text>
<line class="tk" x1="255.42" y1="772.73" x2="256.92" y2="772.73"/>
<text class="tlb" x="253.92" y="774.03" text-anchor="end">0</text>
<line class="tk" x1="256.92" y1="772.73" x2="256.92" y2="774.23"/>
<text class="tlb" x="256.92" y="779.23" text-anchor="middle">10<tspan class="supb" dy="-1">0</tspan></text>
<line class="tk" x1="277.12" y1="772.73" x2="277.12" y2="774.23"/>
<text class="tlb" x="277.12" y="779.23" text-anchor="middle">10<tspan class="supb" dy="-1">1</tspan></text>
<line class="tk" x1="297.33" y1="772.73" x2="297.33" y2="774.23"/>
<text class="tlb" x="297.33" y="779.23" text-anchor="middle">10<tspan class="supb" dy="-1">2</tspan></text>
<line class="tk" x1="317.53" y1="772.73" x2="317.53" y2="774.23"/>
<text class="tlb" x="317.53" y="779.23" text-anchor="middle">10<tspan class="supb" dy="-1">3</tspan></text>
<line class="tk" x1="337.73" y1="772.73" x2="337.73" y2="774.23"/>
<text class="tlb" x="337.73" y="779.23" text-anchor="middle">10<tspan class="supb" dy="-1">4</tspan></text>
<line class="spk" x1="257.22" y1="708.85" x2="257.22" y2="738.46"/>
<polyline class="cb" points="257.35,738.46 258.19,732.12 259.04,726.83 260.1,724.71 261.15,721.54 262.21,718.37 263.27,714.13 264.33,710.96 265.38,716.25 266.44,723.65 267.5,730 268.56,738.46 269.62,747.98 270.67,754.33 271.73,758.56 273.42,761.73 274.9,760.67 275.96,761.73 277.02,760.67 278.08,759.62 279.13,761.73 280.19,763.85 281.88,765.96 283.37,768.08 285.48,769.13 287.6,770.19 289.71,770.62 291.83,769.13 293.31,763.85 294.58,755.38 295.63,746.92 296.69,742.69 297.75,744.81 298.81,747.98 299.87,753.27 300.92,759.62 302.4,763.85 304.52,765.96 306.63,768.08 308.12,770.19 309.81,771.25 311.92,772.31 316.15,772.73 337.73,772.73"/>
<rect class="bxb" x="414.04" y="695.52" width="80.38" height="81.02"/>
<line class="axb" x1="414.04" y1="695.52" x2="414.04" y2="776.54"/>
<line class="tk" x1="412.54" y1="695.52" x2="414.04" y2="695.52"/>
<text class="tlb" x="411.04" y="696.82" text-anchor="end">250</text>
<line class="tk" x1="412.54" y1="711.72" x2="414.04" y2="711.72"/>
<text class="tlb" x="411.04" y="713.02" text-anchor="end">200</text>
<line class="tk" x1="412.54" y1="727.93" x2="414.04" y2="727.93"/>
<text class="tlb" x="411.04" y="729.23" text-anchor="end">150</text>
<line class="tk" x1="412.54" y1="744.13" x2="414.04" y2="744.13"/>
<text class="tlb" x="411.04" y="745.43" text-anchor="end">100</text>
<line class="tk" x1="412.54" y1="760.33" x2="414.04" y2="760.33"/>
<text class="tlb" x="411.04" y="761.63" text-anchor="end">50</text>
<line class="tk" x1="412.54" y1="776.54" x2="414.04" y2="776.54"/>
<text class="tlb" x="411.04" y="777.84" text-anchor="end">0</text>
<line class="tk" x1="414.04" y1="776.54" x2="414.04" y2="778.04"/>
<text class="tlb" x="414.04" y="783.04" text-anchor="middle">10<tspan class="supb" dy="-1">0</tspan></text>
<line class="tk" x1="434.13" y1="776.54" x2="434.13" y2="778.04"/>
<text class="tlb" x="434.13" y="783.04" text-anchor="middle">10<tspan class="supb" dy="-1">1</tspan></text>
<line class="tk" x1="454.23" y1="776.54" x2="454.23" y2="778.04"/>
<text class="tlb" x="454.23" y="783.04" text-anchor="middle">10<tspan class="supb" dy="-1">2</tspan></text>
<line class="tk" x1="474.33" y1="776.54" x2="474.33" y2="778.04"/>
<text class="tlb" x="474.33" y="783.04" text-anchor="middle">10<tspan class="supb" dy="-1">3</tspan></text>
<line class="tk" x1="494.42" y1="776.54" x2="494.42" y2="778.04"/>
<text class="tlb" x="494.42" y="783.04" text-anchor="middle">10<tspan class="supb" dy="-1">4</tspan></text>
<line class="spk" x1="414.34" y1="708.85" x2="414.34" y2="734.23"/>
<polyline class="cb" points="414.46,734.23 415.1,730 416.15,725.77 417.21,720.48 418.27,718.37 419.33,717.31 420.38,715.19 421.44,719.42 422.08,727.88 422.92,738.46 423.98,746.92 425.04,755.38 426.31,761.73 427.79,765.96 429.27,770.19 430.96,772.31 433.08,773.37 435.19,774 439.42,774.42 443.65,774.63 447.88,774.42 448.94,770.19 450,763.85 451.06,755.38 452.12,746.92 453.17,742.69 454.23,744.81 455.29,751.15 456.35,757.5 457.4,762.79 458.46,765.96 460.58,768.08 462.27,769.13 463.75,772.31 465.87,774.42 467.98,775.48 471.15,776.12 494.42,776.33"/>
<text class="big" style="font-size:32px" transform="translate(-0.2,23.7) scale(0.99,1)">A</text>
<text class="big" style="font-size:32.5px" transform="translate(-0.9,579.3) scale(0.95,1)">B</text>
<text class="hd" transform="translate(191.4,11.2) scale(1.02,1.06)" text-anchor="middle">CD80</text>
<text class="hd" transform="translate(271,11.2) scale(1.02,1.06)" text-anchor="middle">CD83</text>
<text class="hd" transform="translate(347.2,11.2) scale(1.02,1.06)" text-anchor="middle">CD86</text>
<text class="hd" transform="translate(441.9,11.2) scale(1.02,1.06)" text-anchor="middle">B7-H1</text>
<rect x="115" y="66.2" width="3.9" height="1.9" fill="#000"/>
<rect x="112" y="325.4" width="4.2" height="2" fill="#000"/>
<text class="rl" transform="translate(110.9,158.4) scale(1.03,1)" text-anchor="middle">DEX</text>
<text class="rl" transform="translate(111.2,412.8) scale(1.03,1)" text-anchor="middle">DEX</text>
<text class="rl" style="font-size:14.3px" transform="translate(91,233.2) scale(1.0,1)">TGF-<tspan class="beta">&#946;</tspan></text>
<text class="rl" style="font-size:14.5px" transform="translate(92.5,493) scale(1.0,1)">TGF-<tspan class="beta">&#946;</tspan></text>
<text class="lb" transform="translate(10.6,159.2) scale(1.05,1)">siC</text>
<text class="lb" transform="translate(-0.8,415) scale(1.04,1)">siGILZ</text>
<rect x="134.8" y="564.5" width="5" height="2" fill="#000"/>
<text class="lb2" transform="translate(295.6,570) scale(1.05,1)" text-anchor="middle">DEX</text>
<text class="lb2" transform="translate(427.6,567.9) scale(1.0,1)">TGF-<tspan class="beta">&#946;</tspan></text>
<text class="lb" transform="translate(14.4,645) scale(1.05,1)">siC</text>
<text class="lb" transform="translate(5.2,746.7) scale(1.04,1)">siGILZ</text>
<text class="lb2" transform="translate(288.9,826.5) scale(1.03,1)" text-anchor="middle">PKh26</text>
<line x1="98" y1="803.2" x2="506" y2="803.2" stroke="#000" stroke-width="2"/>
<polygon points="519.2,803.3 501.3,798.8 504.1,803.3 501.3,807.6" fill="#000"/>

</svg>
</body></html>
